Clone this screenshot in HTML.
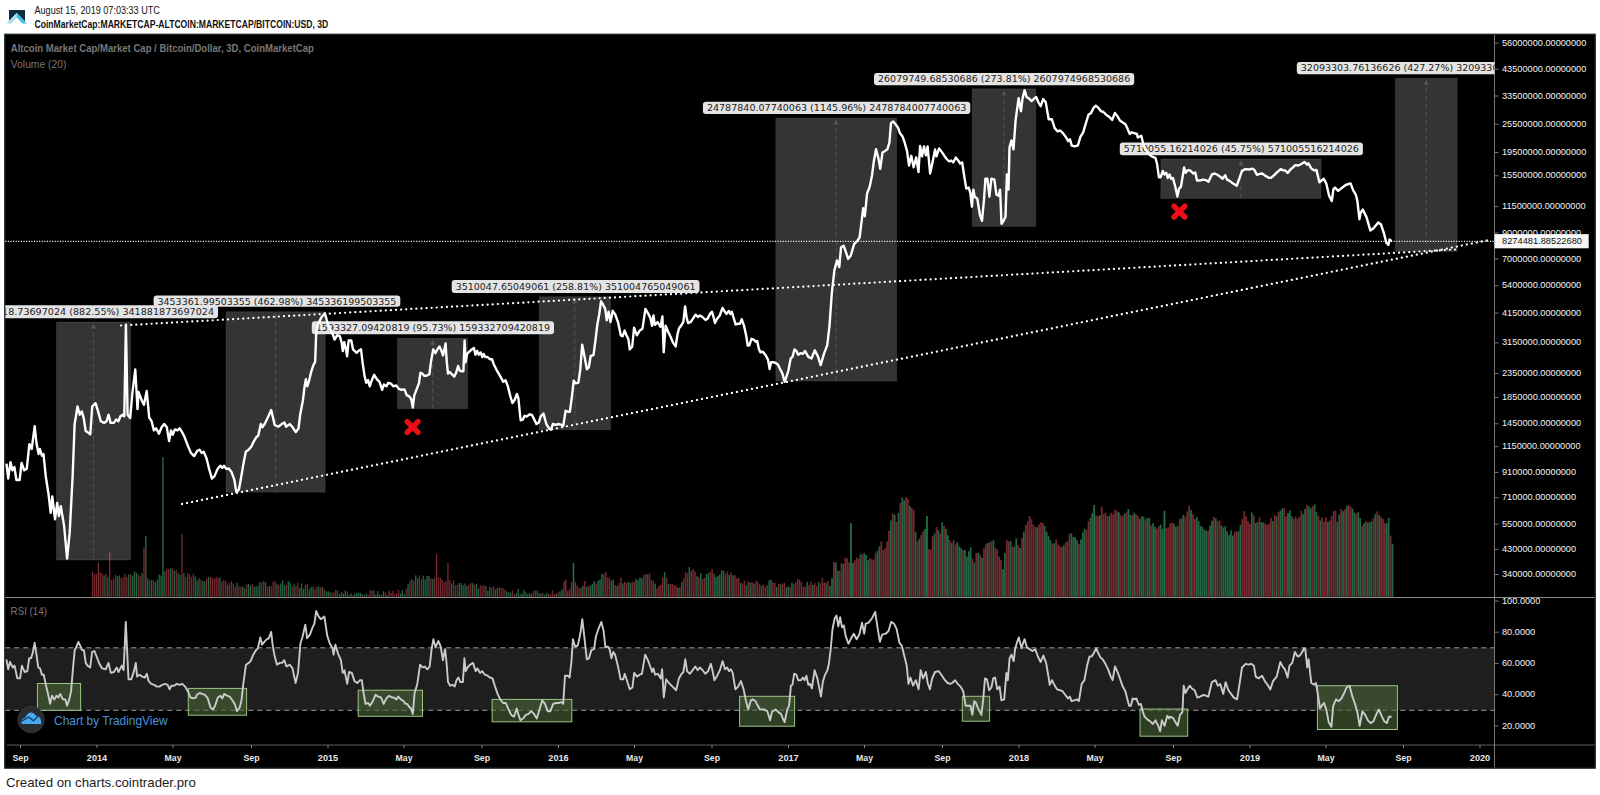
<!DOCTYPE html>
<html><head><meta charset="utf-8"><title>Chart</title>
<style>
html,body{margin:0;padding:0;background:#fff;}
body{width:1600px;height:795px;overflow:hidden;position:relative;font-family:"Liberation Sans",sans-serif;}
svg{position:absolute;left:0;top:0;}
</style></head><body>
<svg width="1600" height="795" viewBox="0 0 1600 795">
<defs><clipPath id="cp"><rect x="5.3" y="34.8" width="1489.2" height="562.7"/></clipPath></defs>
<path d="M9,10 H25 V21.5 L16.7,13 L9,20.9 Z" fill="#0e2d3e"/>
<path d="M6.5,23.6 L16.7,13 L16.7,17.6 L11,23.6 Z" fill="#a6e2ea"/>
<path d="M16.7,13 L27,23.6 L22.4,23.6 L16.7,17.6 Z" fill="#3fc2ee"/>
<rect x="4.3" y="33.8" width="1591.4" height="734.8000000000001" fill="#000"/><rect x="4.8" y="34.3" width="1590.4" height="733.8000000000001" fill="none" stroke="#22343a" stroke-width="1"/><rect x="5.3" y="647.8" width="1489.2" height="62.5" fill="#1e1e1e"/><g><rect x="92.00" y="571.4" width="1.3" height="25.4" fill="#732a2f"/><rect x="93.90" y="574.1" width="1.3" height="22.7" fill="#732a2f"/><rect x="95.80" y="574.1" width="1.3" height="22.7" fill="#732a2f"/><rect x="97.70" y="562.5" width="1.3" height="34.3" fill="#7a2a30"/><rect x="99.60" y="572.6" width="1.3" height="24.2" fill="#732a2f"/><rect x="101.50" y="573.1" width="1.3" height="23.7" fill="#732a2f"/><rect x="103.40" y="575.4" width="1.3" height="21.4" fill="#256444"/><rect x="105.30" y="573.8" width="1.3" height="23.0" fill="#732a2f"/><rect x="107.20" y="577.0" width="1.3" height="19.8" fill="#256444"/><rect x="109.10" y="552.5" width="1.3" height="44.3" fill="#7a2a30"/><rect x="111.00" y="579.5" width="1.3" height="17.3" fill="#732a2f"/><rect x="112.90" y="578.9" width="1.3" height="17.9" fill="#732a2f"/><rect x="114.80" y="574.8" width="1.3" height="22.0" fill="#732a2f"/><rect x="116.70" y="576.0" width="1.3" height="20.8" fill="#256444"/><rect x="118.60" y="575.4" width="1.3" height="21.4" fill="#256444"/><rect x="120.50" y="578.2" width="1.3" height="18.6" fill="#732a2f"/><rect x="122.40" y="577.2" width="1.3" height="19.6" fill="#732a2f"/><rect x="124.30" y="573.8" width="1.3" height="23.0" fill="#732a2f"/><rect x="126.20" y="577.0" width="1.3" height="19.8" fill="#732a2f"/><rect x="128.10" y="574.3" width="1.3" height="22.5" fill="#256444"/><rect x="130.00" y="574.4" width="1.3" height="22.4" fill="#732a2f"/><rect x="131.90" y="575.6" width="1.3" height="21.2" fill="#256444"/><rect x="133.80" y="571.5" width="1.3" height="25.3" fill="#256444"/><rect x="135.70" y="572.8" width="1.3" height="24.0" fill="#256444"/><rect x="137.60" y="574.2" width="1.3" height="22.6" fill="#732a2f"/><rect x="139.50" y="576.0" width="1.3" height="20.8" fill="#732a2f"/><rect x="141.40" y="572.9" width="1.3" height="23.9" fill="#256444"/><rect x="143.30" y="547.5" width="1.3" height="49.3" fill="#7a2a30"/><rect x="145.20" y="536.0" width="1.3" height="60.8" fill="#2a7048"/><rect x="147.10" y="578.3" width="1.3" height="18.5" fill="#256444"/><rect x="149.00" y="580.1" width="1.3" height="16.7" fill="#732a2f"/><rect x="150.90" y="580.0" width="1.3" height="16.8" fill="#256444"/><rect x="152.80" y="579.9" width="1.3" height="16.9" fill="#732a2f"/><rect x="154.70" y="582.1" width="1.3" height="14.7" fill="#256444"/><rect x="156.60" y="579.5" width="1.3" height="17.3" fill="#256444"/><rect x="158.50" y="574.5" width="1.3" height="22.3" fill="#256444"/><rect x="160.40" y="575.5" width="1.3" height="21.3" fill="#256444"/><rect x="162.30" y="457.0" width="1.3" height="139.8" fill="#2a7048"/><rect x="164.20" y="571.3" width="1.3" height="25.5" fill="#256444"/><rect x="166.10" y="568.6" width="1.3" height="28.2" fill="#732a2f"/><rect x="168.00" y="569.0" width="1.3" height="27.8" fill="#732a2f"/><rect x="169.90" y="567.9" width="1.3" height="28.9" fill="#256444"/><rect x="171.80" y="568.7" width="1.3" height="28.1" fill="#732a2f"/><rect x="173.70" y="570.8" width="1.3" height="26.0" fill="#256444"/><rect x="175.60" y="569.4" width="1.3" height="27.4" fill="#732a2f"/><rect x="177.50" y="572.7" width="1.3" height="24.1" fill="#256444"/><rect x="179.40" y="574.8" width="1.3" height="22.0" fill="#256444"/><rect x="181.30" y="534.0" width="1.3" height="62.8" fill="#7a2a30"/><rect x="183.20" y="573.1" width="1.3" height="23.7" fill="#256444"/><rect x="185.10" y="577.3" width="1.3" height="19.5" fill="#732a2f"/><rect x="187.00" y="573.1" width="1.3" height="23.7" fill="#732a2f"/><rect x="188.90" y="574.0" width="1.3" height="22.8" fill="#732a2f"/><rect x="190.80" y="576.7" width="1.3" height="20.1" fill="#732a2f"/><rect x="192.70" y="573.7" width="1.3" height="23.1" fill="#732a2f"/><rect x="194.60" y="576.4" width="1.3" height="20.4" fill="#256444"/><rect x="196.50" y="580.3" width="1.3" height="16.5" fill="#256444"/><rect x="198.40" y="578.2" width="1.3" height="18.6" fill="#256444"/><rect x="200.30" y="579.6" width="1.3" height="17.2" fill="#732a2f"/><rect x="202.20" y="581.1" width="1.3" height="15.7" fill="#256444"/><rect x="204.10" y="581.2" width="1.3" height="15.6" fill="#256444"/><rect x="206.00" y="578.5" width="1.3" height="18.3" fill="#732a2f"/><rect x="207.90" y="576.9" width="1.3" height="19.9" fill="#256444"/><rect x="209.80" y="576.9" width="1.3" height="19.9" fill="#732a2f"/><rect x="211.70" y="577.9" width="1.3" height="18.9" fill="#732a2f"/><rect x="213.60" y="578.9" width="1.3" height="17.9" fill="#732a2f"/><rect x="215.50" y="577.1" width="1.3" height="19.7" fill="#732a2f"/><rect x="217.40" y="577.8" width="1.3" height="19.0" fill="#732a2f"/><rect x="219.30" y="577.6" width="1.3" height="19.2" fill="#256444"/><rect x="221.20" y="581.5" width="1.3" height="15.3" fill="#732a2f"/><rect x="223.10" y="579.9" width="1.3" height="16.9" fill="#732a2f"/><rect x="225.00" y="581.2" width="1.3" height="15.6" fill="#732a2f"/><rect x="226.90" y="584.7" width="1.3" height="12.1" fill="#256444"/><rect x="228.80" y="582.9" width="1.3" height="13.9" fill="#732a2f"/><rect x="230.70" y="581.2" width="1.3" height="15.6" fill="#732a2f"/><rect x="232.60" y="583.3" width="1.3" height="13.5" fill="#732a2f"/><rect x="234.50" y="586.8" width="1.3" height="10.0" fill="#732a2f"/><rect x="236.40" y="582.6" width="1.3" height="14.2" fill="#256444"/><rect x="238.30" y="586.2" width="1.3" height="10.6" fill="#732a2f"/><rect x="240.20" y="586.7" width="1.3" height="10.1" fill="#732a2f"/><rect x="242.10" y="586.5" width="1.3" height="10.3" fill="#256444"/><rect x="244.00" y="588.3" width="1.3" height="8.5" fill="#256444"/><rect x="245.90" y="584.5" width="1.3" height="12.3" fill="#732a2f"/><rect x="247.80" y="583.7" width="1.3" height="13.1" fill="#256444"/><rect x="249.70" y="585.7" width="1.3" height="11.1" fill="#256444"/><rect x="251.60" y="584.2" width="1.3" height="12.6" fill="#732a2f"/><rect x="253.50" y="586.7" width="1.3" height="10.1" fill="#256444"/><rect x="255.40" y="586.5" width="1.3" height="10.3" fill="#256444"/><rect x="257.30" y="585.9" width="1.3" height="10.9" fill="#256444"/><rect x="259.20" y="582.0" width="1.3" height="14.8" fill="#256444"/><rect x="261.10" y="582.6" width="1.3" height="14.2" fill="#732a2f"/><rect x="263.00" y="580.7" width="1.3" height="16.1" fill="#732a2f"/><rect x="264.90" y="582.1" width="1.3" height="14.7" fill="#256444"/><rect x="266.80" y="586.2" width="1.3" height="10.6" fill="#732a2f"/><rect x="268.70" y="586.1" width="1.3" height="10.7" fill="#256444"/><rect x="270.60" y="586.2" width="1.3" height="10.6" fill="#732a2f"/><rect x="272.50" y="581.6" width="1.3" height="15.2" fill="#732a2f"/><rect x="274.40" y="581.2" width="1.3" height="15.6" fill="#732a2f"/><rect x="276.30" y="583.6" width="1.3" height="13.2" fill="#256444"/><rect x="278.20" y="584.7" width="1.3" height="12.1" fill="#732a2f"/><rect x="280.10" y="583.4" width="1.3" height="13.4" fill="#256444"/><rect x="282.00" y="580.2" width="1.3" height="16.6" fill="#256444"/><rect x="283.90" y="585.3" width="1.3" height="11.5" fill="#256444"/><rect x="285.80" y="584.6" width="1.3" height="12.2" fill="#732a2f"/><rect x="287.70" y="581.3" width="1.3" height="15.5" fill="#256444"/><rect x="289.60" y="582.5" width="1.3" height="14.3" fill="#256444"/><rect x="291.50" y="586.6" width="1.3" height="10.2" fill="#732a2f"/><rect x="293.40" y="583.6" width="1.3" height="13.2" fill="#256444"/><rect x="295.30" y="585.9" width="1.3" height="10.9" fill="#732a2f"/><rect x="297.20" y="582.7" width="1.3" height="14.1" fill="#732a2f"/><rect x="299.10" y="587.7" width="1.3" height="9.1" fill="#256444"/><rect x="301.00" y="583.5" width="1.3" height="13.3" fill="#256444"/><rect x="302.90" y="588.7" width="1.3" height="8.1" fill="#256444"/><rect x="304.80" y="585.1" width="1.3" height="11.7" fill="#256444"/><rect x="306.70" y="584.0" width="1.3" height="12.8" fill="#732a2f"/><rect x="308.60" y="589.2" width="1.3" height="7.6" fill="#256444"/><rect x="310.50" y="586.8" width="1.3" height="10.0" fill="#256444"/><rect x="312.40" y="586.6" width="1.3" height="10.2" fill="#256444"/><rect x="314.30" y="589.3" width="1.3" height="7.5" fill="#732a2f"/><rect x="316.20" y="586.3" width="1.3" height="10.5" fill="#732a2f"/><rect x="318.10" y="586.6" width="1.3" height="10.2" fill="#256444"/><rect x="320.00" y="587.1" width="1.3" height="9.7" fill="#732a2f"/><rect x="321.90" y="587.0" width="1.3" height="9.8" fill="#256444"/><rect x="323.80" y="589.1" width="1.3" height="7.7" fill="#732a2f"/><rect x="325.70" y="591.3" width="1.3" height="5.5" fill="#256444"/><rect x="327.60" y="591.1" width="1.3" height="5.7" fill="#256444"/><rect x="329.50" y="592.3" width="1.3" height="4.5" fill="#256444"/><rect x="331.40" y="592.7" width="1.3" height="4.1" fill="#732a2f"/><rect x="333.30" y="592.2" width="1.3" height="4.6" fill="#732a2f"/><rect x="335.20" y="589.7" width="1.3" height="7.1" fill="#256444"/><rect x="337.10" y="590.7" width="1.3" height="6.1" fill="#732a2f"/><rect x="339.00" y="594.1" width="1.3" height="2.7" fill="#256444"/><rect x="340.90" y="591.7" width="1.3" height="5.1" fill="#256444"/><rect x="342.80" y="593.2" width="1.3" height="3.6" fill="#256444"/><rect x="344.70" y="590.5" width="1.3" height="6.3" fill="#256444"/><rect x="346.60" y="591.4" width="1.3" height="5.4" fill="#732a2f"/><rect x="348.50" y="594.6" width="1.3" height="2.2" fill="#256444"/><rect x="350.40" y="593.4" width="1.3" height="3.4" fill="#256444"/><rect x="352.30" y="595.0" width="1.3" height="1.8" fill="#732a2f"/><rect x="354.20" y="593.7" width="1.3" height="3.1" fill="#256444"/><rect x="356.10" y="593.1" width="1.3" height="3.7" fill="#256444"/><rect x="358.00" y="592.7" width="1.3" height="4.1" fill="#256444"/><rect x="359.90" y="592.9" width="1.3" height="3.9" fill="#256444"/><rect x="361.80" y="594.2" width="1.3" height="2.6" fill="#256444"/><rect x="363.70" y="595.0" width="1.3" height="1.8" fill="#732a2f"/><rect x="365.60" y="593.4" width="1.3" height="3.4" fill="#256444"/><rect x="367.50" y="595.0" width="1.3" height="1.8" fill="#732a2f"/><rect x="369.40" y="590.7" width="1.3" height="6.1" fill="#732a2f"/><rect x="371.30" y="590.4" width="1.3" height="6.4" fill="#732a2f"/><rect x="373.20" y="590.4" width="1.3" height="6.4" fill="#256444"/><rect x="375.10" y="594.7" width="1.3" height="2.1" fill="#256444"/><rect x="377.00" y="590.9" width="1.3" height="5.9" fill="#256444"/><rect x="378.90" y="594.0" width="1.3" height="2.8" fill="#732a2f"/><rect x="380.80" y="595.0" width="1.3" height="1.8" fill="#256444"/><rect x="382.70" y="591.3" width="1.3" height="5.5" fill="#256444"/><rect x="384.60" y="592.3" width="1.3" height="4.5" fill="#732a2f"/><rect x="386.50" y="595.0" width="1.3" height="1.8" fill="#256444"/><rect x="388.40" y="590.8" width="1.3" height="6.0" fill="#732a2f"/><rect x="390.30" y="592.9" width="1.3" height="3.9" fill="#732a2f"/><rect x="392.20" y="590.9" width="1.3" height="5.9" fill="#732a2f"/><rect x="394.10" y="594.1" width="1.3" height="2.7" fill="#732a2f"/><rect x="396.00" y="593.0" width="1.3" height="3.8" fill="#732a2f"/><rect x="397.90" y="589.8" width="1.3" height="7.0" fill="#732a2f"/><rect x="399.80" y="593.3" width="1.3" height="3.5" fill="#256444"/><rect x="401.70" y="590.0" width="1.3" height="6.8" fill="#256444"/><rect x="403.60" y="594.3" width="1.3" height="2.5" fill="#256444"/><rect x="405.50" y="588.9" width="1.3" height="7.9" fill="#732a2f"/><rect x="407.40" y="584.0" width="1.3" height="12.8" fill="#256444"/><rect x="409.30" y="580.8" width="1.3" height="16.0" fill="#732a2f"/><rect x="411.20" y="579.3" width="1.3" height="17.5" fill="#256444"/><rect x="413.10" y="580.6" width="1.3" height="16.2" fill="#732a2f"/><rect x="415.00" y="575.4" width="1.3" height="21.4" fill="#256444"/><rect x="416.90" y="578.1" width="1.3" height="18.7" fill="#256444"/><rect x="418.80" y="575.4" width="1.3" height="21.4" fill="#732a2f"/><rect x="420.70" y="579.2" width="1.3" height="17.6" fill="#732a2f"/><rect x="422.60" y="575.7" width="1.3" height="21.1" fill="#256444"/><rect x="424.50" y="579.3" width="1.3" height="17.5" fill="#256444"/><rect x="426.40" y="576.0" width="1.3" height="20.8" fill="#256444"/><rect x="428.30" y="575.9" width="1.3" height="20.9" fill="#256444"/><rect x="430.20" y="578.2" width="1.3" height="18.6" fill="#732a2f"/><rect x="432.10" y="578.8" width="1.3" height="18.0" fill="#256444"/><rect x="434.00" y="577.6" width="1.3" height="19.2" fill="#732a2f"/><rect x="435.90" y="554.0" width="1.3" height="42.8" fill="#7a2a30"/><rect x="437.80" y="577.6" width="1.3" height="19.2" fill="#732a2f"/><rect x="439.70" y="577.7" width="1.3" height="19.1" fill="#732a2f"/><rect x="441.60" y="579.6" width="1.3" height="17.2" fill="#732a2f"/><rect x="443.50" y="582.5" width="1.3" height="14.3" fill="#732a2f"/><rect x="445.40" y="581.2" width="1.3" height="15.6" fill="#732a2f"/><rect x="447.30" y="563.0" width="1.3" height="33.8" fill="#7a2a30"/><rect x="449.20" y="580.2" width="1.3" height="16.6" fill="#732a2f"/><rect x="451.10" y="583.4" width="1.3" height="13.4" fill="#256444"/><rect x="453.00" y="580.4" width="1.3" height="16.4" fill="#732a2f"/><rect x="454.90" y="585.1" width="1.3" height="11.7" fill="#732a2f"/><rect x="456.80" y="584.8" width="1.3" height="12.0" fill="#732a2f"/><rect x="458.70" y="583.2" width="1.3" height="13.6" fill="#256444"/><rect x="460.60" y="583.0" width="1.3" height="13.8" fill="#256444"/><rect x="462.50" y="585.1" width="1.3" height="11.7" fill="#256444"/><rect x="464.40" y="583.4" width="1.3" height="13.4" fill="#256444"/><rect x="466.30" y="586.0" width="1.3" height="10.8" fill="#256444"/><rect x="468.20" y="584.6" width="1.3" height="12.2" fill="#732a2f"/><rect x="470.10" y="582.8" width="1.3" height="14.0" fill="#732a2f"/><rect x="472.00" y="583.2" width="1.3" height="13.6" fill="#256444"/><rect x="473.90" y="584.6" width="1.3" height="12.2" fill="#732a2f"/><rect x="475.80" y="583.8" width="1.3" height="13.0" fill="#256444"/><rect x="477.70" y="588.7" width="1.3" height="8.1" fill="#256444"/><rect x="479.60" y="585.5" width="1.3" height="11.3" fill="#732a2f"/><rect x="481.50" y="585.8" width="1.3" height="11.0" fill="#732a2f"/><rect x="483.40" y="585.2" width="1.3" height="11.6" fill="#732a2f"/><rect x="485.30" y="586.1" width="1.3" height="10.7" fill="#256444"/><rect x="487.20" y="590.8" width="1.3" height="6.0" fill="#256444"/><rect x="489.10" y="586.8" width="1.3" height="10.0" fill="#256444"/><rect x="491.00" y="587.6" width="1.3" height="9.2" fill="#732a2f"/><rect x="492.90" y="586.1" width="1.3" height="10.7" fill="#732a2f"/><rect x="494.80" y="589.3" width="1.3" height="7.5" fill="#256444"/><rect x="496.70" y="588.0" width="1.3" height="8.8" fill="#256444"/><rect x="498.60" y="587.2" width="1.3" height="9.6" fill="#732a2f"/><rect x="500.50" y="588.1" width="1.3" height="8.7" fill="#732a2f"/><rect x="502.40" y="587.9" width="1.3" height="8.9" fill="#732a2f"/><rect x="504.30" y="589.6" width="1.3" height="7.2" fill="#732a2f"/><rect x="506.20" y="591.4" width="1.3" height="5.4" fill="#256444"/><rect x="508.10" y="592.5" width="1.3" height="4.3" fill="#256444"/><rect x="510.00" y="592.5" width="1.3" height="4.3" fill="#256444"/><rect x="511.90" y="590.6" width="1.3" height="6.2" fill="#732a2f"/><rect x="513.80" y="594.3" width="1.3" height="2.5" fill="#732a2f"/><rect x="515.70" y="592.9" width="1.3" height="3.9" fill="#256444"/><rect x="517.60" y="588.9" width="1.3" height="7.9" fill="#256444"/><rect x="519.50" y="594.2" width="1.3" height="2.6" fill="#256444"/><rect x="521.40" y="593.3" width="1.3" height="3.5" fill="#256444"/><rect x="523.30" y="589.9" width="1.3" height="6.9" fill="#256444"/><rect x="525.20" y="592.2" width="1.3" height="4.6" fill="#256444"/><rect x="527.10" y="594.1" width="1.3" height="2.7" fill="#256444"/><rect x="529.00" y="592.9" width="1.3" height="3.9" fill="#256444"/><rect x="530.90" y="593.6" width="1.3" height="3.2" fill="#256444"/><rect x="532.80" y="590.9" width="1.3" height="5.9" fill="#732a2f"/><rect x="534.70" y="590.4" width="1.3" height="6.4" fill="#732a2f"/><rect x="536.60" y="590.3" width="1.3" height="6.5" fill="#256444"/><rect x="538.50" y="593.1" width="1.3" height="3.7" fill="#256444"/><rect x="540.40" y="593.5" width="1.3" height="3.3" fill="#256444"/><rect x="542.30" y="592.7" width="1.3" height="4.1" fill="#732a2f"/><rect x="544.20" y="594.6" width="1.3" height="2.2" fill="#256444"/><rect x="546.10" y="592.9" width="1.3" height="3.9" fill="#256444"/><rect x="548.00" y="593.9" width="1.3" height="2.9" fill="#732a2f"/><rect x="549.90" y="594.4" width="1.3" height="2.4" fill="#732a2f"/><rect x="551.80" y="590.2" width="1.3" height="6.6" fill="#732a2f"/><rect x="553.70" y="593.8" width="1.3" height="3.0" fill="#732a2f"/><rect x="555.60" y="593.5" width="1.3" height="3.3" fill="#256444"/><rect x="557.50" y="591.7" width="1.3" height="5.1" fill="#732a2f"/><rect x="559.40" y="591.4" width="1.3" height="5.4" fill="#256444"/><rect x="561.30" y="589.7" width="1.5" height="7.1" fill="#256444"/><rect x="563.20" y="581.4" width="1.5" height="15.4" fill="#732a2f"/><rect x="565.10" y="579.6" width="1.5" height="17.2" fill="#732a2f"/><rect x="567.00" y="590.8" width="1.5" height="6.0" fill="#732a2f"/><rect x="568.90" y="588.9" width="1.5" height="7.9" fill="#732a2f"/><rect x="570.80" y="582.1" width="1.5" height="14.7" fill="#732a2f"/><rect x="572.70" y="563.0" width="1.5" height="33.8" fill="#2a7048"/><rect x="574.60" y="582.1" width="1.5" height="14.7" fill="#732a2f"/><rect x="576.50" y="585.9" width="1.5" height="10.9" fill="#732a2f"/><rect x="578.40" y="588.5" width="1.5" height="8.3" fill="#732a2f"/><rect x="580.30" y="587.3" width="1.5" height="9.5" fill="#732a2f"/><rect x="582.20" y="585.7" width="1.5" height="11.1" fill="#256444"/><rect x="584.10" y="580.9" width="1.5" height="15.9" fill="#732a2f"/><rect x="586.00" y="586.9" width="1.5" height="9.9" fill="#256444"/><rect x="587.90" y="585.9" width="1.5" height="10.9" fill="#732a2f"/><rect x="589.80" y="585.7" width="1.5" height="11.1" fill="#256444"/><rect x="591.70" y="584.2" width="1.5" height="12.6" fill="#256444"/><rect x="593.60" y="581.2" width="1.5" height="15.6" fill="#256444"/><rect x="595.50" y="583.5" width="1.5" height="13.3" fill="#732a2f"/><rect x="597.40" y="580.8" width="1.5" height="16.0" fill="#256444"/><rect x="599.30" y="579.3" width="1.5" height="17.5" fill="#256444"/><rect x="601.20" y="573.7" width="1.5" height="23.1" fill="#256444"/><rect x="603.10" y="574.3" width="1.5" height="22.5" fill="#732a2f"/><rect x="605.00" y="571.9" width="1.5" height="24.9" fill="#732a2f"/><rect x="606.90" y="577.4" width="1.5" height="19.4" fill="#732a2f"/><rect x="608.80" y="577.8" width="1.5" height="19.0" fill="#732a2f"/><rect x="610.70" y="580.8" width="1.5" height="16.0" fill="#256444"/><rect x="612.60" y="579.7" width="1.5" height="17.1" fill="#256444"/><rect x="614.50" y="585.1" width="1.5" height="11.7" fill="#732a2f"/><rect x="616.40" y="585.9" width="1.5" height="10.9" fill="#256444"/><rect x="618.30" y="583.1" width="1.5" height="13.7" fill="#732a2f"/><rect x="620.20" y="577.6" width="1.5" height="19.2" fill="#732a2f"/><rect x="622.10" y="583.5" width="1.5" height="13.3" fill="#256444"/><rect x="624.00" y="581.9" width="1.5" height="14.9" fill="#732a2f"/><rect x="625.90" y="583.0" width="1.5" height="13.8" fill="#732a2f"/><rect x="627.80" y="581.9" width="1.5" height="14.9" fill="#256444"/><rect x="629.70" y="583.0" width="1.5" height="13.8" fill="#256444"/><rect x="631.60" y="581.7" width="1.5" height="15.1" fill="#732a2f"/><rect x="633.50" y="581.4" width="1.5" height="15.4" fill="#732a2f"/><rect x="635.40" y="578.6" width="1.5" height="18.2" fill="#256444"/><rect x="637.30" y="580.3" width="1.5" height="16.5" fill="#256444"/><rect x="639.20" y="577.5" width="1.5" height="19.3" fill="#256444"/><rect x="641.10" y="578.1" width="1.5" height="18.7" fill="#256444"/><rect x="643.00" y="575.2" width="1.5" height="21.6" fill="#732a2f"/><rect x="644.90" y="573.8" width="1.5" height="23.0" fill="#732a2f"/><rect x="646.80" y="574.6" width="1.5" height="22.2" fill="#256444"/><rect x="648.70" y="573.3" width="1.5" height="23.5" fill="#732a2f"/><rect x="650.60" y="579.7" width="1.5" height="17.1" fill="#732a2f"/><rect x="652.50" y="580.8" width="1.5" height="16.0" fill="#732a2f"/><rect x="654.40" y="583.6" width="1.5" height="13.2" fill="#256444"/><rect x="656.30" y="588.4" width="1.5" height="8.4" fill="#732a2f"/><rect x="658.20" y="585.9" width="1.5" height="10.9" fill="#732a2f"/><rect x="660.10" y="584.7" width="1.5" height="12.1" fill="#732a2f"/><rect x="662.00" y="577.2" width="1.5" height="19.6" fill="#732a2f"/><rect x="663.90" y="572.2" width="1.5" height="24.6" fill="#256444"/><rect x="665.80" y="577.8" width="1.5" height="19.0" fill="#732a2f"/><rect x="667.70" y="584.1" width="1.5" height="12.7" fill="#256444"/><rect x="669.60" y="584.3" width="1.5" height="12.5" fill="#732a2f"/><rect x="671.50" y="583.7" width="1.5" height="13.1" fill="#732a2f"/><rect x="673.40" y="585.4" width="1.5" height="11.4" fill="#732a2f"/><rect x="675.30" y="585.4" width="1.5" height="11.4" fill="#732a2f"/><rect x="677.20" y="588.0" width="1.5" height="8.8" fill="#256444"/><rect x="679.10" y="587.1" width="1.5" height="9.7" fill="#732a2f"/><rect x="681.00" y="581.9" width="1.5" height="14.9" fill="#256444"/><rect x="682.90" y="578.4" width="1.5" height="18.4" fill="#732a2f"/><rect x="684.80" y="572.2" width="1.5" height="24.6" fill="#732a2f"/><rect x="686.70" y="573.3" width="1.5" height="23.5" fill="#732a2f"/><rect x="688.60" y="567.1" width="1.5" height="29.7" fill="#256444"/><rect x="690.50" y="570.8" width="1.5" height="26.0" fill="#732a2f"/><rect x="692.40" y="568.8" width="1.5" height="28.0" fill="#732a2f"/><rect x="694.30" y="571.2" width="1.5" height="25.6" fill="#732a2f"/><rect x="696.20" y="576.1" width="1.5" height="20.7" fill="#256444"/><rect x="698.10" y="577.2" width="1.5" height="19.6" fill="#732a2f"/><rect x="700.00" y="573.1" width="1.5" height="23.7" fill="#256444"/><rect x="701.90" y="578.9" width="1.5" height="17.9" fill="#732a2f"/><rect x="703.80" y="577.8" width="1.5" height="19.0" fill="#732a2f"/><rect x="705.70" y="573.8" width="1.5" height="23.0" fill="#256444"/><rect x="707.60" y="573.3" width="1.5" height="23.5" fill="#256444"/><rect x="709.50" y="571.6" width="1.5" height="25.2" fill="#732a2f"/><rect x="711.40" y="568.7" width="1.5" height="28.1" fill="#732a2f"/><rect x="713.30" y="573.6" width="1.5" height="23.2" fill="#256444"/><rect x="715.20" y="577.1" width="1.5" height="19.7" fill="#256444"/><rect x="717.10" y="576.0" width="1.5" height="20.8" fill="#256444"/><rect x="719.00" y="574.4" width="1.5" height="22.4" fill="#256444"/><rect x="720.90" y="570.4" width="1.5" height="26.4" fill="#256444"/><rect x="722.80" y="570.6" width="1.5" height="26.2" fill="#256444"/><rect x="724.70" y="573.8" width="1.5" height="23.0" fill="#732a2f"/><rect x="726.60" y="571.5" width="1.5" height="25.3" fill="#732a2f"/><rect x="728.50" y="575.0" width="1.5" height="21.8" fill="#256444"/><rect x="730.40" y="572.3" width="1.5" height="24.5" fill="#732a2f"/><rect x="732.30" y="575.3" width="1.5" height="21.5" fill="#256444"/><rect x="734.20" y="575.2" width="1.5" height="21.6" fill="#732a2f"/><rect x="736.10" y="578.1" width="1.5" height="18.7" fill="#732a2f"/><rect x="738.00" y="577.9" width="1.5" height="18.9" fill="#732a2f"/><rect x="739.90" y="583.1" width="1.5" height="13.7" fill="#256444"/><rect x="741.80" y="583.6" width="1.5" height="13.2" fill="#732a2f"/><rect x="743.70" y="580.6" width="1.5" height="16.2" fill="#732a2f"/><rect x="745.60" y="585.3" width="1.5" height="11.5" fill="#256444"/><rect x="747.50" y="581.3" width="1.5" height="15.5" fill="#732a2f"/><rect x="749.40" y="582.5" width="1.5" height="14.3" fill="#256444"/><rect x="751.30" y="582.0" width="1.5" height="14.8" fill="#732a2f"/><rect x="753.20" y="583.5" width="1.5" height="13.3" fill="#256444"/><rect x="755.10" y="580.9" width="1.5" height="15.9" fill="#732a2f"/><rect x="757.00" y="581.7" width="1.5" height="15.1" fill="#732a2f"/><rect x="758.90" y="584.5" width="1.5" height="12.3" fill="#732a2f"/><rect x="760.80" y="585.9" width="1.5" height="10.9" fill="#256444"/><rect x="762.70" y="584.8" width="1.5" height="12.0" fill="#732a2f"/><rect x="764.60" y="587.2" width="1.5" height="9.6" fill="#732a2f"/><rect x="766.50" y="585.2" width="1.5" height="11.6" fill="#732a2f"/><rect x="768.40" y="580.4" width="1.5" height="16.4" fill="#256444"/><rect x="770.30" y="579.7" width="1.5" height="17.1" fill="#256444"/><rect x="772.20" y="582.4" width="1.5" height="14.4" fill="#732a2f"/><rect x="774.10" y="582.7" width="1.5" height="14.1" fill="#732a2f"/><rect x="776.00" y="587.0" width="1.5" height="9.8" fill="#256444"/><rect x="777.90" y="583.9" width="1.5" height="12.9" fill="#732a2f"/><rect x="779.80" y="584.3" width="1.5" height="12.5" fill="#256444"/><rect x="781.70" y="583.7" width="1.5" height="13.1" fill="#732a2f"/><rect x="783.60" y="582.9" width="1.5" height="13.9" fill="#732a2f"/><rect x="785.50" y="587.6" width="1.5" height="9.2" fill="#256444"/><rect x="787.40" y="586.3" width="1.5" height="10.5" fill="#256444"/><rect x="789.30" y="587.2" width="1.5" height="9.6" fill="#732a2f"/><rect x="791.20" y="582.5" width="1.5" height="14.3" fill="#256444"/><rect x="793.10" y="584.4" width="1.5" height="12.4" fill="#732a2f"/><rect x="795.00" y="582.4" width="1.5" height="14.4" fill="#732a2f"/><rect x="796.90" y="579.2" width="1.5" height="17.6" fill="#732a2f"/><rect x="798.80" y="579.6" width="1.5" height="17.2" fill="#732a2f"/><rect x="800.70" y="581.9" width="1.5" height="14.9" fill="#732a2f"/><rect x="802.60" y="586.8" width="1.5" height="10.0" fill="#732a2f"/><rect x="804.50" y="586.2" width="1.5" height="10.6" fill="#732a2f"/><rect x="806.40" y="581.9" width="1.5" height="14.9" fill="#256444"/><rect x="808.30" y="585.1" width="1.5" height="11.7" fill="#732a2f"/><rect x="810.20" y="581.7" width="1.5" height="15.1" fill="#732a2f"/><rect x="812.10" y="585.0" width="1.5" height="11.8" fill="#256444"/><rect x="814.00" y="583.2" width="1.5" height="13.6" fill="#732a2f"/><rect x="815.90" y="586.1" width="1.5" height="10.7" fill="#732a2f"/><rect x="817.80" y="582.0" width="1.5" height="14.8" fill="#256444"/><rect x="819.70" y="583.2" width="1.5" height="13.6" fill="#732a2f"/><rect x="821.60" y="577.8" width="1.5" height="19.0" fill="#732a2f"/><rect x="823.50" y="582.7" width="1.5" height="14.1" fill="#732a2f"/><rect x="825.40" y="582.6" width="1.5" height="14.2" fill="#256444"/><rect x="827.30" y="581.0" width="1.5" height="15.8" fill="#732a2f"/><rect x="829.20" y="586.0" width="1.5" height="10.8" fill="#256444"/><rect x="831.10" y="578.1" width="1.75" height="18.7" fill="#256444"/><rect x="833.00" y="562.0" width="1.75" height="34.8" fill="#732a2f"/><rect x="834.90" y="562.5" width="1.75" height="34.3" fill="#256444"/><rect x="836.80" y="570.5" width="1.75" height="26.3" fill="#256444"/><rect x="838.70" y="570.9" width="1.75" height="25.9" fill="#732a2f"/><rect x="840.60" y="563.2" width="1.75" height="33.6" fill="#732a2f"/><rect x="842.50" y="564.0" width="1.75" height="32.8" fill="#256444"/><rect x="844.40" y="557.6" width="1.75" height="39.2" fill="#732a2f"/><rect x="846.30" y="558.6" width="1.75" height="38.2" fill="#732a2f"/><rect x="848.20" y="562.4" width="1.75" height="34.4" fill="#732a2f"/><rect x="850.10" y="523.0" width="1.75" height="73.8" fill="#2a7048"/><rect x="852.00" y="563.0" width="1.75" height="33.8" fill="#256444"/><rect x="853.90" y="560.4" width="1.75" height="36.4" fill="#732a2f"/><rect x="855.80" y="557.3" width="1.75" height="39.5" fill="#732a2f"/><rect x="857.70" y="558.8" width="1.75" height="38.0" fill="#732a2f"/><rect x="859.60" y="554.2" width="1.75" height="42.6" fill="#256444"/><rect x="861.50" y="554.5" width="1.75" height="42.3" fill="#732a2f"/><rect x="863.40" y="553.2" width="1.75" height="43.6" fill="#256444"/><rect x="865.30" y="555.0" width="1.75" height="41.8" fill="#256444"/><rect x="867.20" y="560.2" width="1.75" height="36.6" fill="#256444"/><rect x="869.10" y="558.4" width="1.75" height="38.4" fill="#732a2f"/><rect x="871.00" y="559.3" width="1.75" height="37.5" fill="#732a2f"/><rect x="872.90" y="559.8" width="1.75" height="37.0" fill="#732a2f"/><rect x="874.80" y="552.8" width="1.75" height="44.0" fill="#732a2f"/><rect x="876.70" y="550.6" width="1.75" height="46.2" fill="#256444"/><rect x="878.60" y="546.3" width="1.75" height="50.5" fill="#256444"/><rect x="880.50" y="541.5" width="1.75" height="55.3" fill="#732a2f"/><rect x="882.40" y="549.7" width="1.75" height="47.1" fill="#732a2f"/><rect x="884.30" y="548.3" width="1.75" height="48.5" fill="#732a2f"/><rect x="886.20" y="541.6" width="1.75" height="55.2" fill="#732a2f"/><rect x="888.10" y="530.8" width="1.75" height="66.0" fill="#732a2f"/><rect x="890.00" y="520.5" width="1.75" height="76.3" fill="#256444"/><rect x="891.90" y="513.4" width="1.75" height="83.4" fill="#732a2f"/><rect x="893.80" y="514.9" width="1.75" height="81.9" fill="#256444"/><rect x="895.70" y="521.7" width="1.75" height="75.1" fill="#732a2f"/><rect x="897.60" y="512.7" width="1.75" height="84.1" fill="#256444"/><rect x="899.50" y="502.9" width="1.75" height="93.9" fill="#732a2f"/><rect x="901.40" y="497.5" width="1.75" height="99.3" fill="#256444"/><rect x="903.30" y="500.4" width="1.75" height="96.4" fill="#256444"/><rect x="905.20" y="497.0" width="1.75" height="99.8" fill="#732a2f"/><rect x="907.10" y="499.1" width="1.75" height="97.7" fill="#732a2f"/><rect x="909.00" y="505.9" width="1.75" height="90.9" fill="#256444"/><rect x="910.90" y="507.9" width="1.75" height="88.9" fill="#732a2f"/><rect x="912.80" y="509.9" width="1.75" height="86.9" fill="#732a2f"/><rect x="914.70" y="531.8" width="1.75" height="65.0" fill="#256444"/><rect x="916.60" y="541.0" width="1.75" height="55.8" fill="#732a2f"/><rect x="918.50" y="538.6" width="1.75" height="58.2" fill="#256444"/><rect x="920.40" y="534.9" width="1.75" height="61.9" fill="#732a2f"/><rect x="922.30" y="531.3" width="1.75" height="65.5" fill="#732a2f"/><rect x="924.20" y="528.8" width="1.75" height="68.0" fill="#256444"/><rect x="926.10" y="516.0" width="1.75" height="80.8" fill="#2a7048"/><rect x="928.00" y="549.1" width="1.75" height="47.7" fill="#732a2f"/><rect x="929.90" y="549.9" width="1.75" height="46.9" fill="#732a2f"/><rect x="931.80" y="536.4" width="1.75" height="60.4" fill="#732a2f"/><rect x="933.70" y="533.6" width="1.75" height="63.2" fill="#256444"/><rect x="935.60" y="526.9" width="1.75" height="69.9" fill="#732a2f"/><rect x="937.50" y="530.1" width="1.75" height="66.7" fill="#256444"/><rect x="939.40" y="533.3" width="1.75" height="63.5" fill="#732a2f"/><rect x="941.30" y="522.3" width="1.75" height="74.5" fill="#256444"/><rect x="943.20" y="526.0" width="1.75" height="70.8" fill="#732a2f"/><rect x="945.10" y="528.8" width="1.75" height="68.0" fill="#256444"/><rect x="947.00" y="535.2" width="1.75" height="61.6" fill="#256444"/><rect x="948.90" y="540.0" width="1.75" height="56.8" fill="#732a2f"/><rect x="950.80" y="543.1" width="1.75" height="53.7" fill="#256444"/><rect x="952.70" y="540.1" width="1.75" height="56.7" fill="#732a2f"/><rect x="954.60" y="544.4" width="1.75" height="52.4" fill="#732a2f"/><rect x="956.50" y="542.3" width="1.75" height="54.5" fill="#256444"/><rect x="958.40" y="546.5" width="1.75" height="50.3" fill="#256444"/><rect x="960.30" y="548.1" width="1.75" height="48.7" fill="#256444"/><rect x="962.20" y="550.1" width="1.75" height="46.7" fill="#732a2f"/><rect x="964.10" y="550.0" width="1.75" height="46.8" fill="#256444"/><rect x="966.00" y="556.6" width="1.75" height="40.2" fill="#256444"/><rect x="967.90" y="551.2" width="1.75" height="45.6" fill="#256444"/><rect x="969.80" y="547.3" width="1.75" height="49.5" fill="#256444"/><rect x="971.70" y="558.9" width="1.75" height="37.9" fill="#732a2f"/><rect x="973.60" y="562.6" width="1.75" height="34.2" fill="#256444"/><rect x="975.50" y="553.1" width="1.75" height="43.7" fill="#732a2f"/><rect x="977.40" y="552.9" width="1.75" height="43.9" fill="#256444"/><rect x="979.30" y="555.1" width="1.75" height="41.7" fill="#732a2f"/><rect x="981.20" y="557.6" width="1.75" height="39.2" fill="#256444"/><rect x="983.10" y="548.3" width="1.75" height="48.5" fill="#732a2f"/><rect x="985.00" y="544.5" width="1.75" height="52.3" fill="#732a2f"/><rect x="986.90" y="543.0" width="1.75" height="53.8" fill="#256444"/><rect x="988.80" y="542.1" width="1.75" height="54.7" fill="#732a2f"/><rect x="990.70" y="541.4" width="1.75" height="55.4" fill="#732a2f"/><rect x="992.60" y="540.2" width="1.75" height="56.6" fill="#256444"/><rect x="994.50" y="548.0" width="1.75" height="48.8" fill="#732a2f"/><rect x="996.40" y="549.6" width="1.75" height="47.2" fill="#732a2f"/><rect x="998.30" y="556.7" width="1.75" height="40.1" fill="#732a2f"/><rect x="1000.20" y="560.0" width="1.75" height="36.8" fill="#732a2f"/><rect x="1002.10" y="569.3" width="1.75" height="27.5" fill="#256444"/><rect x="1004.00" y="552.8" width="1.75" height="44.0" fill="#256444"/><rect x="1005.90" y="540.2" width="1.75" height="56.6" fill="#732a2f"/><rect x="1007.80" y="541.5" width="1.75" height="55.3" fill="#732a2f"/><rect x="1009.70" y="540.8" width="1.75" height="56.0" fill="#256444"/><rect x="1011.60" y="546.6" width="1.75" height="50.2" fill="#732a2f"/><rect x="1013.50" y="546.5" width="1.75" height="50.3" fill="#256444"/><rect x="1015.40" y="538.3" width="1.75" height="58.5" fill="#256444"/><rect x="1017.30" y="545.1" width="1.75" height="51.7" fill="#732a2f"/><rect x="1019.20" y="547.9" width="1.75" height="48.9" fill="#256444"/><rect x="1021.10" y="538.0" width="1.75" height="58.8" fill="#732a2f"/><rect x="1023.00" y="531.6" width="1.75" height="65.2" fill="#256444"/><rect x="1024.90" y="524.8" width="1.75" height="72.0" fill="#732a2f"/><rect x="1026.80" y="521.5" width="1.75" height="75.3" fill="#732a2f"/><rect x="1028.70" y="516.0" width="1.75" height="80.8" fill="#732a2f"/><rect x="1030.60" y="519.2" width="1.75" height="77.6" fill="#732a2f"/><rect x="1032.50" y="524.7" width="1.75" height="72.1" fill="#732a2f"/><rect x="1034.40" y="526.6" width="1.75" height="70.2" fill="#732a2f"/><rect x="1036.30" y="527.3" width="1.75" height="69.5" fill="#256444"/><rect x="1038.20" y="524.5" width="1.75" height="72.3" fill="#732a2f"/><rect x="1040.10" y="522.5" width="1.75" height="74.3" fill="#732a2f"/><rect x="1042.00" y="522.9" width="1.75" height="73.9" fill="#732a2f"/><rect x="1043.90" y="525.9" width="1.75" height="70.9" fill="#256444"/><rect x="1045.80" y="531.6" width="1.75" height="65.2" fill="#256444"/><rect x="1047.70" y="536.1" width="1.75" height="60.7" fill="#256444"/><rect x="1049.60" y="540.3" width="1.75" height="56.5" fill="#256444"/><rect x="1051.50" y="543.7" width="1.75" height="53.1" fill="#732a2f"/><rect x="1053.40" y="543.3" width="1.75" height="53.5" fill="#256444"/><rect x="1055.30" y="539.5" width="1.75" height="57.3" fill="#732a2f"/><rect x="1057.20" y="544.5" width="1.75" height="52.3" fill="#732a2f"/><rect x="1059.10" y="546.2" width="1.75" height="50.6" fill="#732a2f"/><rect x="1061.00" y="547.1" width="1.75" height="49.7" fill="#732a2f"/><rect x="1062.90" y="545.3" width="1.75" height="51.5" fill="#256444"/><rect x="1064.80" y="542.4" width="1.75" height="54.4" fill="#732a2f"/><rect x="1066.70" y="541.0" width="1.75" height="55.8" fill="#732a2f"/><rect x="1068.60" y="534.0" width="1.75" height="62.8" fill="#732a2f"/><rect x="1070.50" y="533.2" width="1.75" height="63.6" fill="#256444"/><rect x="1072.40" y="537.0" width="1.75" height="59.8" fill="#256444"/><rect x="1074.30" y="537.2" width="1.75" height="59.6" fill="#256444"/><rect x="1076.20" y="540.2" width="1.75" height="56.6" fill="#256444"/><rect x="1078.10" y="543.8" width="1.75" height="53.0" fill="#732a2f"/><rect x="1080.00" y="539.4" width="1.75" height="57.4" fill="#256444"/><rect x="1081.90" y="532.3" width="1.75" height="64.5" fill="#256444"/><rect x="1083.80" y="528.8" width="1.75" height="68.0" fill="#256444"/><rect x="1085.70" y="529.9" width="1.75" height="66.9" fill="#732a2f"/><rect x="1087.60" y="521.5" width="1.75" height="75.3" fill="#732a2f"/><rect x="1089.50" y="518.0" width="1.75" height="78.8" fill="#256444"/><rect x="1091.40" y="513.2" width="1.75" height="83.6" fill="#256444"/><rect x="1093.30" y="505.0" width="1.75" height="91.8" fill="#2a7048"/><rect x="1095.20" y="515.5" width="1.75" height="81.3" fill="#732a2f"/><rect x="1097.10" y="516.1" width="1.75" height="80.7" fill="#732a2f"/><rect x="1099.00" y="515.4" width="1.75" height="81.4" fill="#256444"/><rect x="1100.90" y="506.6" width="1.75" height="90.2" fill="#7a2a30"/><rect x="1102.80" y="514.1" width="1.75" height="82.7" fill="#732a2f"/><rect x="1104.70" y="512.6" width="1.75" height="84.2" fill="#732a2f"/><rect x="1106.60" y="516.1" width="1.75" height="80.7" fill="#732a2f"/><rect x="1108.50" y="515.5" width="1.75" height="81.3" fill="#256444"/><rect x="1110.40" y="512.7" width="1.75" height="84.1" fill="#732a2f"/><rect x="1112.30" y="514.5" width="1.75" height="82.3" fill="#732a2f"/><rect x="1114.20" y="509.7" width="1.75" height="87.1" fill="#732a2f"/><rect x="1116.10" y="511.0" width="1.75" height="85.8" fill="#732a2f"/><rect x="1118.00" y="512.3" width="1.75" height="84.5" fill="#256444"/><rect x="1119.90" y="515.3" width="1.75" height="81.5" fill="#732a2f"/><rect x="1121.80" y="516.2" width="1.75" height="80.6" fill="#732a2f"/><rect x="1123.70" y="513.7" width="1.75" height="83.1" fill="#256444"/><rect x="1125.60" y="512.2" width="1.75" height="84.6" fill="#732a2f"/><rect x="1127.50" y="509.1" width="1.75" height="87.7" fill="#256444"/><rect x="1129.40" y="514.8" width="1.75" height="82.0" fill="#256444"/><rect x="1131.30" y="515.3" width="1.75" height="81.5" fill="#732a2f"/><rect x="1133.20" y="512.7" width="1.75" height="84.1" fill="#256444"/><rect x="1135.10" y="514.5" width="1.75" height="82.3" fill="#732a2f"/><rect x="1137.00" y="515.9" width="1.75" height="80.9" fill="#732a2f"/><rect x="1138.90" y="518.9" width="1.75" height="77.9" fill="#256444"/><rect x="1140.80" y="516.3" width="1.75" height="80.5" fill="#256444"/><rect x="1142.70" y="516.7" width="1.75" height="80.1" fill="#256444"/><rect x="1144.60" y="519.4" width="1.75" height="77.4" fill="#732a2f"/><rect x="1146.50" y="517.8" width="1.75" height="79.0" fill="#256444"/><rect x="1148.40" y="518.0" width="1.75" height="78.8" fill="#256444"/><rect x="1150.30" y="525.5" width="1.75" height="71.3" fill="#732a2f"/><rect x="1152.20" y="523.0" width="1.75" height="73.8" fill="#256444"/><rect x="1154.10" y="526.6" width="1.75" height="70.2" fill="#256444"/><rect x="1156.00" y="528.6" width="1.75" height="68.2" fill="#732a2f"/><rect x="1157.90" y="525.9" width="1.75" height="70.9" fill="#732a2f"/><rect x="1159.80" y="524.5" width="1.75" height="72.3" fill="#256444"/><rect x="1161.70" y="528.7" width="1.75" height="68.1" fill="#256444"/><rect x="1163.60" y="510.8" width="1.75" height="86.0" fill="#2a7048"/><rect x="1165.50" y="528.1" width="1.75" height="68.7" fill="#732a2f"/><rect x="1167.40" y="527.4" width="1.75" height="69.4" fill="#732a2f"/><rect x="1169.30" y="523.4" width="1.75" height="73.4" fill="#732a2f"/><rect x="1171.20" y="522.5" width="1.75" height="74.3" fill="#732a2f"/><rect x="1173.10" y="523.5" width="1.75" height="73.3" fill="#256444"/><rect x="1175.00" y="526.9" width="1.75" height="69.9" fill="#256444"/><rect x="1176.90" y="525.5" width="1.75" height="71.3" fill="#732a2f"/><rect x="1178.80" y="519.1" width="1.75" height="77.7" fill="#732a2f"/><rect x="1180.70" y="518.3" width="1.75" height="78.5" fill="#256444"/><rect x="1182.60" y="514.9" width="1.75" height="81.9" fill="#256444"/><rect x="1184.50" y="516.8" width="1.75" height="80.0" fill="#732a2f"/><rect x="1186.40" y="511.4" width="1.75" height="85.4" fill="#732a2f"/><rect x="1188.30" y="505.9" width="1.75" height="90.9" fill="#732a2f"/><rect x="1190.20" y="509.9" width="1.75" height="86.9" fill="#256444"/><rect x="1192.10" y="514.0" width="1.75" height="82.8" fill="#732a2f"/><rect x="1194.00" y="518.9" width="1.75" height="77.9" fill="#732a2f"/><rect x="1195.90" y="517.0" width="1.75" height="79.8" fill="#256444"/><rect x="1197.80" y="521.3" width="1.75" height="75.5" fill="#256444"/><rect x="1199.70" y="526.0" width="1.75" height="70.8" fill="#256444"/><rect x="1201.60" y="526.9" width="1.75" height="69.9" fill="#256444"/><rect x="1203.50" y="529.8" width="1.75" height="67.0" fill="#256444"/><rect x="1205.40" y="530.6" width="1.75" height="66.2" fill="#256444"/><rect x="1207.30" y="530.7" width="1.75" height="66.1" fill="#732a2f"/><rect x="1209.20" y="525.6" width="1.75" height="71.2" fill="#256444"/><rect x="1211.10" y="520.8" width="1.75" height="76.0" fill="#256444"/><rect x="1213.00" y="517.0" width="1.75" height="79.8" fill="#732a2f"/><rect x="1214.90" y="518.3" width="1.75" height="78.5" fill="#256444"/><rect x="1216.80" y="521.4" width="1.75" height="75.4" fill="#732a2f"/><rect x="1218.70" y="520.3" width="1.75" height="76.5" fill="#732a2f"/><rect x="1220.60" y="525.4" width="1.75" height="71.4" fill="#256444"/><rect x="1222.50" y="527.4" width="1.75" height="69.4" fill="#256444"/><rect x="1224.40" y="526.2" width="1.75" height="70.6" fill="#256444"/><rect x="1226.30" y="531.3" width="1.75" height="65.5" fill="#256444"/><rect x="1228.20" y="535.1" width="1.75" height="61.7" fill="#256444"/><rect x="1230.10" y="530.3" width="1.75" height="66.5" fill="#256444"/><rect x="1232.00" y="535.6" width="1.75" height="61.2" fill="#256444"/><rect x="1233.90" y="531.7" width="1.75" height="65.1" fill="#732a2f"/><rect x="1235.80" y="531.3" width="1.75" height="65.5" fill="#732a2f"/><rect x="1237.70" y="531.2" width="1.75" height="65.6" fill="#256444"/><rect x="1239.60" y="524.8" width="1.75" height="72.0" fill="#256444"/><rect x="1241.50" y="519.0" width="1.75" height="77.8" fill="#732a2f"/><rect x="1243.40" y="511.1" width="1.75" height="85.7" fill="#732a2f"/><rect x="1245.30" y="516.5" width="1.75" height="80.3" fill="#732a2f"/><rect x="1247.20" y="521.2" width="1.75" height="75.6" fill="#732a2f"/><rect x="1249.10" y="523.6" width="1.75" height="73.2" fill="#732a2f"/><rect x="1251.00" y="512.6" width="1.75" height="84.2" fill="#256444"/><rect x="1252.90" y="515.5" width="1.75" height="81.3" fill="#732a2f"/><rect x="1254.80" y="523.1" width="1.75" height="73.7" fill="#256444"/><rect x="1256.70" y="522.0" width="1.75" height="74.8" fill="#256444"/><rect x="1258.60" y="517.4" width="1.75" height="79.4" fill="#732a2f"/><rect x="1260.50" y="522.0" width="1.75" height="74.8" fill="#256444"/><rect x="1262.40" y="522.6" width="1.75" height="74.2" fill="#256444"/><rect x="1264.30" y="523.4" width="1.75" height="73.4" fill="#732a2f"/><rect x="1266.20" y="524.7" width="1.75" height="72.1" fill="#732a2f"/><rect x="1268.10" y="523.7" width="1.75" height="73.1" fill="#732a2f"/><rect x="1270.00" y="517.8" width="1.75" height="79.0" fill="#732a2f"/><rect x="1271.90" y="521.2" width="1.75" height="75.6" fill="#256444"/><rect x="1273.80" y="515.1" width="1.75" height="81.7" fill="#732a2f"/><rect x="1275.70" y="516.4" width="1.75" height="80.4" fill="#256444"/><rect x="1277.60" y="512.0" width="1.75" height="84.8" fill="#732a2f"/><rect x="1279.50" y="510.5" width="1.75" height="86.3" fill="#256444"/><rect x="1281.40" y="508.4" width="1.75" height="88.4" fill="#256444"/><rect x="1283.30" y="508.1" width="1.75" height="88.7" fill="#732a2f"/><rect x="1285.20" y="516.2" width="1.75" height="80.6" fill="#732a2f"/><rect x="1287.10" y="512.9" width="1.75" height="83.9" fill="#256444"/><rect x="1289.00" y="510.4" width="1.75" height="86.4" fill="#256444"/><rect x="1290.90" y="516.4" width="1.75" height="80.4" fill="#256444"/><rect x="1292.80" y="518.9" width="1.75" height="77.9" fill="#732a2f"/><rect x="1294.70" y="516.6" width="1.75" height="80.2" fill="#732a2f"/><rect x="1296.60" y="518.6" width="1.75" height="78.2" fill="#732a2f"/><rect x="1298.50" y="516.8" width="1.75" height="80.0" fill="#732a2f"/><rect x="1300.40" y="511.1" width="1.75" height="85.7" fill="#732a2f"/><rect x="1302.30" y="514.2" width="1.75" height="82.6" fill="#256444"/><rect x="1304.20" y="508.8" width="1.75" height="88.0" fill="#256444"/><rect x="1306.10" y="504.9" width="1.75" height="91.9" fill="#732a2f"/><rect x="1308.00" y="506.4" width="1.75" height="90.4" fill="#256444"/><rect x="1309.90" y="508.3" width="1.75" height="88.5" fill="#256444"/><rect x="1311.80" y="506.0" width="1.75" height="90.8" fill="#732a2f"/><rect x="1313.70" y="504.4" width="1.75" height="92.4" fill="#256444"/><rect x="1315.60" y="512.2" width="1.75" height="84.6" fill="#256444"/><rect x="1317.50" y="515.9" width="1.75" height="80.9" fill="#732a2f"/><rect x="1319.40" y="520.4" width="1.75" height="76.4" fill="#256444"/><rect x="1321.30" y="517.2" width="1.75" height="79.6" fill="#732a2f"/><rect x="1323.20" y="521.9" width="1.75" height="74.9" fill="#732a2f"/><rect x="1325.10" y="517.7" width="1.75" height="79.1" fill="#732a2f"/><rect x="1327.00" y="521.8" width="1.75" height="75.0" fill="#256444"/><rect x="1328.90" y="520.4" width="1.75" height="76.4" fill="#732a2f"/><rect x="1330.80" y="516.4" width="1.75" height="80.4" fill="#732a2f"/><rect x="1332.70" y="511.2" width="1.75" height="85.6" fill="#732a2f"/><rect x="1334.60" y="510.6" width="1.75" height="86.2" fill="#732a2f"/><rect x="1336.50" y="521.8" width="1.75" height="75.0" fill="#256444"/><rect x="1338.40" y="514.4" width="1.75" height="82.4" fill="#256444"/><rect x="1340.30" y="508.8" width="1.75" height="88.0" fill="#732a2f"/><rect x="1342.20" y="511.2" width="1.75" height="85.6" fill="#256444"/><rect x="1344.10" y="509.4" width="1.75" height="87.4" fill="#732a2f"/><rect x="1346.00" y="505.9" width="1.75" height="90.9" fill="#256444"/><rect x="1347.90" y="505.0" width="1.75" height="91.8" fill="#732a2f"/><rect x="1349.80" y="506.7" width="1.75" height="90.1" fill="#732a2f"/><rect x="1351.70" y="508.7" width="1.75" height="88.1" fill="#256444"/><rect x="1353.60" y="512.5" width="1.75" height="84.3" fill="#256444"/><rect x="1355.50" y="513.6" width="1.75" height="83.2" fill="#732a2f"/><rect x="1357.40" y="512.2" width="1.75" height="84.6" fill="#256444"/><rect x="1359.30" y="518.1" width="1.75" height="78.7" fill="#256444"/><rect x="1361.20" y="526.1" width="1.75" height="70.7" fill="#732a2f"/><rect x="1363.10" y="523.2" width="1.75" height="73.6" fill="#256444"/><rect x="1365.00" y="521.3" width="1.75" height="75.5" fill="#732a2f"/><rect x="1366.90" y="522.5" width="1.75" height="74.3" fill="#256444"/><rect x="1368.80" y="522.2" width="1.75" height="74.6" fill="#256444"/><rect x="1370.70" y="521.3" width="1.75" height="75.5" fill="#256444"/><rect x="1372.60" y="518.1" width="1.75" height="78.7" fill="#732a2f"/><rect x="1374.50" y="514.3" width="1.75" height="82.5" fill="#256444"/><rect x="1376.40" y="511.4" width="1.75" height="85.4" fill="#732a2f"/><rect x="1378.30" y="515.0" width="1.75" height="81.8" fill="#256444"/><rect x="1380.20" y="517.2" width="1.75" height="79.6" fill="#732a2f"/><rect x="1382.10" y="519.0" width="1.75" height="77.8" fill="#732a2f"/><rect x="1384.00" y="523.2" width="1.75" height="73.6" fill="#732a2f"/><rect x="1385.90" y="523.3" width="1.75" height="73.5" fill="#256444"/><rect x="1387.80" y="517.8" width="1.75" height="79.0" fill="#256444"/><rect x="1389.70" y="535.6" width="1.75" height="61.2" fill="#732a2f"/><rect x="1391.60" y="543.7" width="1.75" height="53.1" fill="#256444"/></g><rect x="56.5" y="322.0" width="74.1" height="238.0" fill="#fff" fill-opacity="0.205" stroke="#fff" stroke-opacity="0.09" stroke-width="1"/><line x1="93.5" y1="324.0" x2="93.5" y2="560.0" stroke="#505050" stroke-width="1" stroke-dasharray="5,3"/><path d="M91.0,328.5 L93.5,324.0 L96.1,328.5 Z" fill="#565656"/><rect x="226.0" y="311.7" width="99.2" height="180.5" fill="#fff" fill-opacity="0.205" stroke="#fff" stroke-opacity="0.09" stroke-width="1"/><line x1="275.6" y1="313.7" x2="275.6" y2="492.2" stroke="#505050" stroke-width="1" stroke-dasharray="5,3"/><path d="M273.0,318.2 L275.6,313.7 L278.2,318.2 Z" fill="#565656"/><rect x="397.5" y="338.2" width="70.2" height="70.5" fill="#fff" fill-opacity="0.205" stroke="#fff" stroke-opacity="0.09" stroke-width="1"/><line x1="432.6" y1="340.2" x2="432.6" y2="408.7" stroke="#505050" stroke-width="1" stroke-dasharray="5,3"/><path d="M430.0,344.7 L432.6,340.2 L435.2,344.7 Z" fill="#565656"/><rect x="539.3" y="296.7" width="71.2" height="133.0" fill="#fff" fill-opacity="0.205" stroke="#fff" stroke-opacity="0.09" stroke-width="1"/><line x1="574.9" y1="298.7" x2="574.9" y2="429.7" stroke="#505050" stroke-width="1" stroke-dasharray="5,3"/><path d="M572.3,303.2 L574.9,298.7 L577.5,303.2 Z" fill="#565656"/><rect x="775.8" y="118.1" width="120.8" height="263.0" fill="#fff" fill-opacity="0.205" stroke="#fff" stroke-opacity="0.09" stroke-width="1"/><line x1="836.2" y1="120.1" x2="836.2" y2="381.1" stroke="#505050" stroke-width="1" stroke-dasharray="5,3"/><path d="M833.6,124.6 L836.2,120.1 L838.8,124.6 Z" fill="#565656"/><rect x="972.2" y="88.8" width="63.6" height="137.6" fill="#fff" fill-opacity="0.205" stroke="#fff" stroke-opacity="0.09" stroke-width="1"/><line x1="1004.0" y1="90.8" x2="1004.0" y2="226.4" stroke="#505050" stroke-width="1" stroke-dasharray="5,3"/><path d="M1001.4,95.3 L1004.0,90.8 L1006.6,95.3 Z" fill="#565656"/><rect x="1160.8" y="158.9" width="160.3" height="39.6" fill="#fff" fill-opacity="0.205" stroke="#fff" stroke-opacity="0.09" stroke-width="1"/><line x1="1240.9" y1="160.9" x2="1240.9" y2="198.5" stroke="#505050" stroke-width="1" stroke-dasharray="5,3"/><path d="M1238.3,165.4 L1240.9,160.9 L1243.5,165.4 Z" fill="#565656"/><rect x="1395.4" y="78.2" width="61.8" height="173.2" fill="#fff" fill-opacity="0.205" stroke="#fff" stroke-opacity="0.09" stroke-width="1"/><line x1="1426.3" y1="80.2" x2="1426.3" y2="251.4" stroke="#505050" stroke-width="1" stroke-dasharray="5,3"/><path d="M1423.7,84.7 L1426.3,80.2 L1428.9,84.7 Z" fill="#565656"/><line x1="5.3" y1="597.5" x2="1594.7" y2="597.5" stroke="#8a8a8a" stroke-width="1"/><line x1="6.8" y1="745" x2="1594.7" y2="745" stroke="#5e5e5e" stroke-width="1"/><line x1="1494.5" y1="34.8" x2="1494.5" y2="767.6" stroke="#777" stroke-width="1"/><line x1="5.3" y1="647.8" x2="1494.5" y2="647.8" stroke="#9a9a9a" stroke-width="1" stroke-dasharray="5,4"/><line x1="5.3" y1="710.3" x2="1494.5" y2="710.3" stroke="#9a9a9a" stroke-width="1" stroke-dasharray="5,4"/><rect x="37.4" y="683.5" width="43.2" height="26.8" fill="#486438" fill-opacity="0.62" stroke="#9cc584" stroke-width="1"/><rect x="188.3" y="688.4" width="58.3" height="26.8" fill="#486438" fill-opacity="0.62" stroke="#9cc584" stroke-width="1"/><rect x="358.2" y="690.2" width="64.3" height="26.1" fill="#486438" fill-opacity="0.62" stroke="#9cc584" stroke-width="1"/><rect x="492.1" y="699.4" width="79.7" height="22.4" fill="#486438" fill-opacity="0.62" stroke="#9cc584" stroke-width="1"/><rect x="739.6" y="696.3" width="55.0" height="29.9" fill="#486438" fill-opacity="0.62" stroke="#9cc584" stroke-width="1"/><rect x="962.3" y="696.3" width="27.3" height="24.9" fill="#486438" fill-opacity="0.62" stroke="#9cc584" stroke-width="1"/><rect x="1140.0" y="709.0" width="47.7" height="27.2" fill="#486438" fill-opacity="0.62" stroke="#9cc584" stroke-width="1"/><rect x="1317.4" y="685.7" width="80.0" height="43.8" fill="#486438" fill-opacity="0.62" stroke="#9cc584" stroke-width="1"/><line x1="121" y1="325.5" x2="1460" y2="249.2" stroke="#fff" stroke-width="2.2" stroke-linecap="round" stroke-dasharray="0.1,5"/><line x1="182" y1="504" x2="1489" y2="240" stroke="#fff" stroke-width="2.2" stroke-linecap="round" stroke-dasharray="0.1,5"/><line x1="5.3" y1="241.4" x2="1494.5" y2="241.4" stroke="#fff" stroke-width="1.1" stroke-dasharray="1.1,1.5"/><path d="M407.20000000000005,421.6L418.0,432.4M418.0,421.6L407.20000000000005,432.4" stroke="#ec0d18" stroke-width="5.4" stroke-linecap="round"/><path d="M1174.0,206.2L1184.8000000000002,217.0M1184.8000000000002,206.2L1174.0,217.0" stroke="#ec0d18" stroke-width="5.4" stroke-linecap="round"/><g clip-path="url(#cp)"><rect x="-32.5" y="305.3" width="250.5" height="12.9" rx="3" fill="#e4e4e4"/><text x="-28.5" y="315.1" font-family="DejaVu Sans, sans-serif" font-size="9.5" fill="#222" textLength="242.5" lengthAdjust="spacingAndGlyphs">3418818.73697024 (882.55%) 341881873697024</text><rect x="153.6" y="295.6" width="246.7" height="11.2" rx="3" fill="#e4e4e4"/><text x="157.6" y="304.5" font-family="DejaVu Sans, sans-serif" font-size="9.5" fill="#222" textLength="238.7" lengthAdjust="spacingAndGlyphs">3453361.99503355 (462.98%) 345336199503355</text><rect x="311.8" y="321.2" width="242.2" height="13.1" rx="3" fill="#e4e4e4"/><text x="315.8" y="331.1" font-family="DejaVu Sans, sans-serif" font-size="9.5" fill="#222" textLength="234.2" lengthAdjust="spacingAndGlyphs">1593327.09420819 (95.73%) 159332709420819</text><rect x="451.7" y="280.0" width="247.8" height="13.1" rx="3" fill="#e4e4e4"/><text x="455.7" y="289.9" font-family="DejaVu Sans, sans-serif" font-size="9.5" fill="#222" textLength="239.8" lengthAdjust="spacingAndGlyphs">3510047.65049061 (258.81%) 351004765049061</text><rect x="702.9" y="101.7" width="267.4" height="12.3" rx="3" fill="#e4e4e4"/><text x="706.9" y="111.1" font-family="DejaVu Sans, sans-serif" font-size="9.5" fill="#222" textLength="259.4" lengthAdjust="spacingAndGlyphs">24787840.07740063 (1145.96%) 2478784007740063</text><rect x="874.0" y="72.9" width="260.2" height="12.4" rx="3" fill="#e4e4e4"/><text x="878.0" y="82.4" font-family="DejaVu Sans, sans-serif" font-size="9.5" fill="#222" textLength="252.2" lengthAdjust="spacingAndGlyphs">26079749.68530686 (273.81%) 2607974968530686</text><rect x="1119.8" y="142.5" width="243.1" height="12.7" rx="3" fill="#e4e4e4"/><text x="1123.8" y="152.2" font-family="DejaVu Sans, sans-serif" font-size="9.5" fill="#222" textLength="235.1" lengthAdjust="spacingAndGlyphs">5710055.16214026 (45.75%) 571005516214026</text><rect x="1296.8" y="61.9" width="260.0" height="12.4" rx="3" fill="#e4e4e4"/><text x="1300.8" y="71.4" font-family="DejaVu Sans, sans-serif" font-size="9.5" fill="#222" textLength="252.0" lengthAdjust="spacingAndGlyphs">32093303.76136626 (427.27%) 3209330376136626</text></g><polyline points="6.5,463.7 8.2,478.5 10.5,462.1 12.4,470.3 14.4,467.0 16.4,480.0 19.6,480.0 21.6,463.0 24.2,470.3 26.8,468.7 29.4,444.1 31.7,449.0 34.7,426.1 36.6,444.1 38.6,454.0 39.9,449.0 41.9,455.6 43.5,454.0 45.8,476.8 48.4,493.2 50.7,512.8 52.3,496.5 55.0,519.4 57.2,503.0 58.9,516.1 60.8,506.3 64.1,525.9 67.1,558.6 69.7,532.4 72.6,476.8 74.6,424.5 77.5,406.5 79.8,414.7 81.8,411.4 83.7,418.0 85.7,431.0 88.3,432.7 90.3,434.3 92.2,406.5 95.5,403.2 98.1,411.4 100.8,421.2 104.0,422.9 106.6,421.2 108.6,414.7 110.6,422.9 113.8,422.9 116.1,419.6 118.4,421.2 120.4,416.3 122.7,414.7 124.3,416.3 125.9,324.7 127.6,414.7 130.2,418.0 132.5,391.8 135.3,369.5 137.5,409.1 138.5,392.0 141.8,400.5 143.9,404.8 146.7,390.9 149.2,417.6 151.4,420.8 153.9,430.4 156.1,428.3 158.9,433.7 161.6,427.2 164.2,424.0 166.8,427.2 169.1,441.1 171.0,430.4 172.7,434.7 174.9,429.4 177.4,430.4 179.6,428.3 181.7,431.5 184.5,436.9 187.7,445.4 190.9,452.9 194.1,456.1 197.3,450.8 199.5,449.7 201.6,452.9 203.7,451.8 206.5,458.2 209.1,468.9 211.9,478.5 214.4,476.4 217.6,468.9 220.2,465.7 222.3,467.9 224.0,465.7 226.2,468.9 228.7,468.5 231.5,472.1 234.3,479.6 236.4,492.4 239.0,489.2 241.1,477.5 243.3,464.6 245.8,451.8 248.6,449.7 251.4,446.5 254.0,441.1 256.5,436.9 258.2,435.8 259.9,428.3 260.8,424.0 262.5,427.2 264.6,424.0 267.6,418.0 271.2,410.0 274.7,425.0 278.2,426.8 281.7,424.1 284.4,422.4 286.1,426.8 289.7,424.1 292.3,426.8 295.8,432.1 298.5,428.5 300.2,414.5 302.9,400.4 304.6,386.3 305.9,379.2 307.3,386.3 309.0,381.0 311.1,372.2 313.4,365.2 315.2,361.6 316.1,335.2 317.8,324.7 321.3,317.6 324.9,313.2 327.5,322.9 330.2,329.1 332.8,334.3 334.6,339.6 337.2,335.2 339.8,336.1 341.6,342.3 342.8,351.1 344.2,342.3 345.6,347.5 347.1,356.3 348.6,340.5 351.3,340.5 353.0,349.3 354.8,351.1 356.6,352.8 358.3,351.1 361.0,349.3 362.7,363.4 364.5,375.7 366.2,382.8 368.0,380.1 369.8,386.3 371.5,381.0 374.2,374.8 376.8,379.2 379.5,381.9 382.1,389.8 383.9,384.5 386.5,386.3 388.3,382.8 390.9,383.6 393.5,386.3 396.2,385.4 398.8,388.9 401.5,389.8 404.5,389.4 406.8,395.4 409.1,396.2 411.3,399.2 412.8,407.5 414.3,395.4 416.6,389.4 418.9,383.4 420.4,372.8 422.3,373.6 424.1,375.8 426.4,375.8 429.4,374.3 430.9,362.2 433.2,349.4 435.4,353.2 437.7,348.7 439.5,346.4 441.5,350.9 443.0,355.4 444.5,348.7 445.6,343.4 446.8,362.2 448.0,373.6 449.8,372.0 452.0,374.3 454.3,376.6 456.1,372.8 458.1,366.0 459.6,370.5 461.5,371.3 463.4,371.3 464.6,340.4 465.6,362.2 467.1,353.9 469.4,351.7 471.7,349.4 473.9,347.9 475.4,354.7 477.2,350.9 478.7,354.7 480.7,352.4 482.2,357.0 483.7,353.9 485.2,357.0 487.5,357.0 489.8,359.2 492.0,359.2 493.5,363.7 496.5,369.8 499.6,375.1 503.3,381.8 505.6,380.3 507.9,386.4 510.1,395.4 512.4,403.0 514.6,400.0 516.9,393.9 518.4,398.4 519.9,413.5 520.7,420.3 522.9,419.6 524.5,415.8 526.7,416.5 529.7,414.3 532.0,415.0 534.3,419.6 536.5,424.1 538.8,422.6 540.7,416.4 543.5,413.6 546.3,424.0 549.2,428.7 551.0,429.6 552.9,424.0 555.8,424.9 558.6,424.0 561.4,424.9 563.3,425.8 565.6,410.8 568.0,411.7 569.9,411.7 571.8,397.5 573.7,380.6 575.6,383.4 578.4,382.5 580.3,369.2 582.2,344.7 584.4,356.0 586.9,369.2 588.8,367.4 590.7,356.0 593.5,355.1 595.4,340.9 597.3,324.9 599.2,314.5 601.0,301.3 602.9,304.2 605.2,308.9 606.7,320.2 608.6,311.7 610.5,322.1 612.7,310.8 615.2,314.5 618.0,322.1 620.8,335.3 622.7,336.2 624.6,330.6 626.5,335.3 628.4,339.1 629.7,349.4 632.2,346.6 634.1,327.7 636.9,335.3 639.7,330.6 642.5,328.7 645.4,308.9 648.2,313.6 650.5,318.3 652.0,325.8 653.5,315.5 654.8,324.9 657.6,322.1 660.5,326.8 662.4,316.4 663.7,352.3 665.6,325.8 668.0,331.5 670.8,337.2 673.0,342.6 675.7,346.4 677.5,334.3 679.1,328.3 681.3,325.3 683.3,322.2 685.1,306.4 686.6,317.7 688.1,323.0 690.4,322.2 692.6,319.2 695.6,314.7 697.9,317.0 699.9,315.5 702.4,317.0 705.5,320.0 707.7,318.5 710.0,313.9 711.9,311.7 713.7,317.7 715.0,323.0 716.8,319.2 719.8,315.5 722.5,307.9 724.3,310.9 726.6,313.9 728.8,310.9 730.3,313.9 731.8,311.7 733.4,317.0 735.6,324.5 737.9,323.7 740.1,323.7 741.7,319.2 743.9,325.3 746.2,335.8 747.7,345.6 749.2,345.6 751.5,338.8 753.7,339.6 756.0,341.8 757.2,341.1 759.0,349.4 760.5,352.4 762.8,351.7 765.8,355.4 768.1,360.0 769.6,369.0 771.1,362.2 773.3,362.2 775.6,363.0 777.9,364.5 780.1,369.0 782.4,373.5 784.6,381.8 786.2,377.3 788.4,370.5 790.7,358.4 792.5,356.9 794.5,349.4 796.4,350.9 798.2,354.7 800.5,353.2 802.7,353.9 805.0,350.9 808.3,356.9 811.5,358.5 814.8,350.3 818.1,356.9 820.7,365.1 824.0,353.6 827.2,345.4 829.5,325.8 831.8,293.1 834.4,270.2 837.0,260.4 839.3,267.0 841.0,247.3 843.6,245.7 845.9,252.2 848.2,258.8 850.8,255.5 854.1,244.1 857.3,240.8 859.6,237.5 861.2,224.5 863.2,208.1 864.8,216.3 867.1,193.4 869.7,186.8 872.0,175.4 873.7,162.3 876.0,149.2 878.6,159.1 880.2,168.9 882.5,152.5 885.1,150.9 887.4,149.2 889.4,142.7 891.0,123.1 893.3,121.4 895.9,124.7 898.2,128.0 899.8,132.9 902.4,136.2 904.7,142.7 907.0,150.9 909.0,165.6 911.3,155.8 913.6,167.2 916.2,157.4 918.5,172.1 920.1,146.0 922.0,156.4 924.0,146.4 926.0,155.4 927.6,146.4 930.1,173.5 932.5,162.5 935.1,149.4 936.5,156.4 939.1,148.4 942.1,152.4 946.2,158.5 949.2,161.5 951.2,160.5 953.2,162.5 955.8,157.5 958.2,160.5 960.2,163.5 962.2,162.5 964.3,176.6 966.3,188.6 968.7,187.6 970.3,192.7 971.9,206.7 973.3,189.6 974.7,196.7 977.3,198.7 979.9,214.8 982.0,220.8 984.0,199.7 985.4,178.6 987.4,178.6 989.4,196.7 991.4,178.6 994.4,179.6 996.4,194.7 998.5,195.7 1000.1,189.6 1001.5,223.8 1003.5,220.8 1005.5,216.8 1006.9,174.5 1008.5,189.6 1009.5,147.4 1011.5,140.4 1013.5,149.4 1015.6,120.2 1018.6,98.1 1021.0,111.2 1022.6,98.1 1024.6,90.1 1026.6,97.1 1029.6,99.1 1031.6,101.1 1034.7,98.1 1036.3,97.1 1038.7,103.1 1040.7,106.2 1043.1,99.1 1045.7,102.1 1048.7,119.2 1051.8,119.2 1054.8,128.3 1057.6,131.4 1060.3,130.5 1062.9,133.1 1065.6,136.7 1068.2,141.1 1070.0,139.3 1071.7,145.5 1074.4,146.3 1077.9,145.5 1080.5,136.7 1083.2,132.3 1085.8,123.5 1088.5,114.7 1091.1,112.9 1093.7,107.6 1095.9,105.8 1098.1,107.6 1100.8,111.1 1103.4,112.0 1106.1,114.7 1108.7,116.4 1112.2,119.9 1114.9,112.9 1117.5,116.4 1120.2,120.8 1122.8,122.6 1125.4,124.3 1127.2,127.9 1129.8,134.0 1131.6,132.3 1134.2,133.1 1136.9,134.0 1137.8,137.5 1139.5,136.7 1141.3,135.8 1143.0,142.8 1144.8,148.1 1147.4,152.5 1150.1,155.2 1152.7,156.9 1155.4,157.8 1157.1,164.0 1158.9,177.2 1160.7,177.2 1162.8,171.0 1164.5,174.5 1166.3,172.8 1167.7,178.0 1169.5,174.5 1171.2,178.9 1173.0,178.0 1175.3,186.8 1177.4,196.5 1179.1,188.6 1180.9,186.8 1182.7,176.3 1184.1,167.5 1185.7,172.8 1187.9,170.1 1190.0,170.4 1193.5,173.5 1195.3,172.6 1197.0,180.5 1199.7,180.5 1203.2,179.6 1205.8,180.1 1208.5,181.8 1212.0,174.3 1214.7,173.5 1217.3,174.8 1219.9,176.5 1222.6,178.7 1225.2,175.2 1227.0,179.6 1229.6,180.9 1233.1,183.6 1236.7,185.8 1239.3,178.7 1242.0,170.8 1245.5,169.1 1249.0,169.5 1252.5,168.6 1254.3,169.9 1256.9,174.8 1259.6,173.9 1262.2,173.5 1265.7,176.1 1269.2,177.9 1271.0,177.9 1273.6,175.7 1277.2,172.1 1280.7,169.1 1283.3,170.4 1285.1,170.4 1287.7,173.0 1290.4,169.5 1293.0,167.3 1295.2,165.1 1298.3,165.5 1300.9,164.2 1304.5,162.0 1307.1,164.7 1308.4,163.3 1311.1,168.2 1314.2,170.4 1316.4,169.9 1319.4,182.3 1323.8,178.7 1326.4,183.9 1329.1,195.7 1331.8,201.0 1333.4,189.3 1335.0,187.6 1338.2,190.9 1341.4,188.2 1345.7,185.0 1350.5,183.4 1353.2,190.3 1355.8,194.6 1357.4,201.0 1359.4,219.2 1360.6,212.8 1362.8,209.6 1366.5,217.1 1370.3,230.4 1373.5,228.3 1378.3,222.4 1381.0,224.5 1384.2,234.2 1386.3,242.7 1388.4,244.9 1389.5,239.5 1391.7,241.1" fill="none" stroke="#fff" stroke-width="2.4" stroke-linejoin="round"/><polyline points="6.4,659.3 8.2,669.3 10.0,662.0 12.8,667.5 14.6,665.6 17.3,678.4 20.1,678.4 21.9,665.6 24.6,672.0 27.3,671.1 29.2,658.3 31.0,658.3 32.8,652.9 34.6,642.8 36.5,654.7 38.3,667.5 40.1,668.4 41.9,674.7 43.8,674.7 45.6,683.9 47.8,693.0 50.1,703.9 52.0,695.7 54.3,699.4 56.5,695.7 58.3,697.5 60.2,693.9 62.9,699.4 65.3,699.4 67.1,705.7 69.3,699.4 71.1,691.2 72.9,669.3 74.7,650.1 76.6,646.5 78.4,641.9 80.2,645.6 82.0,650.1 83.9,650.1 85.7,662.9 87.5,665.6 90.2,667.5 92.1,652.0 94.4,651.0 96.6,656.5 99.4,663.8 102.1,668.4 105.7,669.3 108.5,662.9 110.8,672.9 113.9,672.0 116.7,667.5 118.5,672.0 120.3,668.4 121.8,665.6 123.6,670.2 125.8,621.9 127.3,654.7 128.5,679.3 131.3,679.3 134.0,671.1 135.8,662.9 137.1,676.6 139.5,674.7 142.2,676.6 144.9,677.5 146.8,673.8 148.6,681.1 151.3,683.9 154.1,684.8 156.8,686.6 159.5,686.6 162.3,684.8 165.0,683.9 167.7,684.8 169.6,689.3 171.4,685.7 174.1,685.7 176.8,683.9 179.6,684.8 182.3,683.9 185.1,686.6 187.8,691.2 190.5,697.5 193.3,698.4 196.0,697.5 196.8,694.8 199.6,693.0 202.3,693.9 205.0,694.8 207.8,698.4 210.5,707.6 212.9,709.4 215.1,705.7 217.8,697.5 220.5,695.7 222.3,698.4 224.2,693.9 226.9,695.7 229.6,696.6 232.4,700.3 235.1,704.8 236.9,711.2 239.7,707.6 241.5,700.3 243.3,683.9 246.0,664.7 248.8,662.9 250.6,661.1 253.3,654.7 256.1,650.1 257.9,648.3 260.3,637.4 262.1,644.7 264.3,641.9 267.0,639.2 268.8,638.3 271.2,631.9 272.5,643.8 274.3,654.7 277.0,664.7 279.8,662.9 282.1,662.9 284.3,660.2 286.5,666.5 289.8,664.7 292.5,668.4 295.6,683.0 298.0,672.9 300.4,643.8 302.6,636.5 305.3,624.6 307.1,638.3 309.9,634.6 312.6,627.3 314.4,623.7 316.2,610.9 318.6,616.4 320.8,619.1 322.6,618.2 324.4,616.4 327.2,635.6 329.9,643.8 332.6,648.3 333.6,654.7 335.4,644.7 338.1,653.8 340.9,660.2 342.7,672.9 344.5,670.2 347.2,683.9 349.1,672.0 351.8,672.9 354.5,681.1 357.3,683.0 360.0,680.2 361.8,680.2 363.6,693.0 365.5,703.9 368.2,703.0 370.0,705.7 372.8,701.2 375.5,694.8 378.2,696.6 381.0,697.5 383.7,703.9 386.4,698.4 389.2,695.7 391.9,697.5 393.6,697.5 396.4,699.4 398.2,696.6 400.9,699.4 403.7,701.2 405.5,703.9 407.3,703.9 409.1,706.7 411.0,708.5 412.8,713.9 414.6,693.0 417.3,683.9 420.1,664.7 422.5,667.5 424.6,666.5 427.4,669.3 429.7,666.5 431.6,649.2 433.4,639.2 435.6,647.4 438.3,641.0 440.7,646.5 442.9,660.2 445.1,649.2 446.5,662.0 448.0,682.0 450.2,685.7 452.4,684.8 454.7,686.6 456.5,680.2 458.4,677.5 460.2,682.0 462.9,682.0 464.4,658.3 465.7,671.1 467.5,667.5 470.2,664.7 473.0,662.9 475.7,671.1 477.5,668.4 480.2,672.9 482.1,671.1 484.8,674.7 487.5,675.7 489.9,677.5 492.5,678.4 494.8,685.7 497.6,693.9 500.3,699.4 503.0,703.0 505.8,703.0 508.5,709.4 511.2,714.9 514.0,716.7 516.7,708.5 518.5,714.9 520.4,720.3 523.1,718.5 525.8,714.9 528.6,713.9 531.3,711.2 534.0,713.9 536.8,718.5 539.5,709.4 542.2,700.3 545.0,703.9 547.7,711.2 550.4,711.2 553.2,703.9 555.9,703.0 558.6,703.0 561.4,702.1 563.2,703.9 565.0,675.7 567.8,675.7 569.6,677.5 571.4,662.0 572.9,639.2 575.1,646.5 577.8,645.6 580.5,632.8 582.3,619.1 584.2,635.6 586.8,659.3 589.0,658.3 591.4,650.1 594.1,649.2 595.9,636.5 598.7,628.3 601.4,621.9 603.6,631.0 605.4,647.4 607.8,646.5 609.6,649.2 611.4,658.3 613.3,652.0 615.1,654.7 617.8,665.6 620.6,679.3 623.3,679.3 624.7,673.8 626.9,680.2 629.7,689.3 632.4,687.5 634.2,672.9 637.0,676.6 639.7,674.7 641.9,673.8 645.2,654.7 647.9,660.2 650.6,667.5 652.1,672.0 653.4,668.4 655.2,674.7 657.9,673.8 660.7,678.4 662.1,669.3 663.8,697.5 666.1,679.3 668.9,683.0 672.5,686.6 676.2,690.2 678.9,678.4 681.6,673.8 683.4,672.0 685.3,659.3 687.1,671.1 689.8,673.8 692.6,670.2 695.3,666.5 697.7,670.2 699.9,667.5 702.6,670.2 705.3,673.8 708.1,671.1 710.8,663.8 712.6,671.1 714.4,680.2 717.2,675.7 719.9,670.2 722.6,661.1 725.0,669.3 727.2,667.5 729.0,671.1 730.9,669.3 732.7,672.9 735.4,689.3 738.1,686.6 740.9,681.1 743.6,689.3 745.4,698.4 748.2,709.4 750.9,700.3 752.7,699.4 755.5,701.2 757.3,704.8 760.0,709.4 763.7,709.4 767.3,711.2 770.1,720.3 771.9,712.1 775.5,709.4 778.3,712.1 781.0,713.9 782.8,718.5 784.6,722.2 787.3,709.4 789.1,705.7 790.9,685.7 792.4,684.8 794.2,673.8 796.4,674.7 798.2,680.2 801.0,680.2 802.8,677.5 804.6,680.2 806.4,675.7 808.3,684.8 810.1,683.9 811.9,688.4 814.6,670.2 817.4,678.4 819.2,687.5 821.0,696.6 822.8,682.0 824.7,675.7 827.4,670.2 828.9,663.8 830.7,649.2 832.5,629.2 834.7,618.2 836.5,615.5 838.3,626.4 840.2,617.3 842.0,627.3 843.8,625.5 845.6,635.6 848.4,643.8 851.1,638.3 853.8,633.7 856.6,639.2 859.3,634.6 862.0,622.8 864.2,633.7 865.7,623.7 868.4,622.8 872.1,618.2 875.2,611.9 877.5,627.3 879.9,641.9 882.1,634.6 885.7,633.7 888.5,631.0 891.2,621.9 894.0,623.7 896.7,629.2 899.4,642.8 901.8,645.6 904.0,654.7 906.7,665.6 908.5,683.9 910.4,677.5 913.1,685.7 915.8,680.2 918.6,689.3 920.7,670.2 923.1,678.4 925.9,672.0 927.7,683.0 929.9,689.3 932.2,678.4 935.0,672.0 938.6,671.1 941.3,674.7 945.0,680.2 947.7,683.0 950.5,683.9 952.3,683.0 955.0,680.2 957.8,683.9 960.5,686.6 963.2,691.2 965.6,705.7 967.8,705.7 970.5,705.7 972.3,714.9 974.2,701.2 976.0,703.0 977.8,707.6 978.6,709.4 981.4,714.9 983.2,699.4 985.0,678.4 986.9,679.3 989.2,690.2 991.4,687.5 993.2,678.4 995.1,677.5 997.2,689.3 999.6,686.6 1001.4,700.3 1004.2,699.4 1006.4,672.9 1007.8,680.2 1009.6,658.3 1011.5,654.7 1013.7,661.1 1015.1,649.2 1016.9,642.8 1018.8,637.4 1021.5,648.3 1022.8,643.8 1024.6,639.2 1027.0,647.4 1029.7,649.2 1032.4,651.0 1035.2,649.2 1037.9,656.5 1040.6,662.0 1043.4,655.6 1046.1,662.9 1048.8,678.4 1049.7,684.8 1052.0,680.2 1054.3,684.8 1057.0,689.3 1059.8,690.2 1062.5,691.2 1065.2,694.8 1068.0,698.4 1069.8,696.6 1071.6,701.2 1074.4,700.3 1077.1,699.4 1078.9,701.2 1081.7,683.9 1084.4,680.2 1087.1,665.6 1089.5,656.5 1091.7,656.5 1093.9,652.9 1096.2,648.3 1098.1,652.9 1100.4,657.4 1102.6,659.3 1105.4,663.8 1108.1,669.3 1110.8,676.6 1112.6,680.2 1115.0,666.5 1117.2,671.1 1119.9,678.4 1122.7,686.6 1125.4,691.2 1127.2,698.4 1129.1,705.7 1130.9,705.7 1132.7,698.4 1134.5,699.4 1136.4,698.4 1138.7,704.8 1140.9,703.9 1142.7,711.2 1144.6,716.7 1147.3,719.4 1150.0,721.2 1152.8,724.0 1155.5,720.3 1158.2,725.8 1160.1,731.3 1161.9,720.3 1164.6,725.8 1167.3,715.8 1169.2,718.5 1170.0,716.7 1172.7,717.6 1175.5,722.2 1177.7,725.8 1180.0,714.9 1182.4,712.2 1183.7,685.7 1185.5,693.0 1187.3,689.4 1189.7,685.7 1191.9,688.5 1194.6,690.3 1197.4,697.6 1200.1,696.7 1203.7,694.8 1208.3,696.7 1211.9,682.1 1215.6,680.2 1217.8,685.7 1220.2,683.9 1223.3,693.9 1225.6,682.1 1228.4,690.3 1231.1,693.9 1233.8,697.6 1237.1,699.4 1239.3,685.7 1242.0,667.5 1245.7,663.8 1248.4,664.7 1251.2,663.8 1253.9,665.7 1255.7,676.6 1258.5,678.4 1262.1,675.7 1264.8,681.2 1267.6,684.8 1270.3,689.4 1273.0,681.2 1276.7,676.6 1280.3,662.0 1282.7,666.6 1284.9,669.3 1287.6,677.5 1289.5,665.7 1292.2,662.9 1294.9,652.0 1297.7,656.5 1299.9,655.6 1302.2,652.0 1304.1,648.3 1305.3,649.2 1307.2,667.5 1308.6,659.3 1311.3,683.0 1314.1,684.8 1315.9,683.0 1317.7,693.0 1319.9,708.5 1322.3,704.9 1324.1,703.0 1326.5,710.3 1328.7,722.2 1331.4,726.8 1333.2,705.8 1336.0,699.4 1338.7,701.2 1341.4,698.5 1344.2,693.0 1346.5,687.5 1349.6,685.7 1352.4,696.7 1355.1,704.0 1357.5,713.1 1359.7,725.8 1362.4,711.3 1365.2,714.9 1367.9,720.4 1370.6,723.1 1373.4,721.3 1376.1,714.9 1378.8,709.4 1381.6,715.8 1384.3,721.3 1387.0,723.1 1388.9,716.7 1391.6,716.7" fill="none" stroke="#cacaca" stroke-width="1.9" stroke-linejoin="round"/><line x1="1494.5" y1="43.2" x2="1498.5" y2="43.2" stroke="#777" stroke-width="1"/><text x="1502.0" y="45.7" font-family="Liberation Sans, sans-serif" font-size="9.2" fill="#f4f4f4">56000000.00000000</text><line x1="1494.5" y1="69.2" x2="1498.5" y2="69.2" stroke="#777" stroke-width="1"/><text x="1502.0" y="71.7" font-family="Liberation Sans, sans-serif" font-size="9.2" fill="#f4f4f4">43500000.00000000</text><line x1="1494.5" y1="96.0" x2="1498.5" y2="96.0" stroke="#777" stroke-width="1"/><text x="1502.0" y="98.5" font-family="Liberation Sans, sans-serif" font-size="9.2" fill="#f4f4f4">33500000.00000000</text><line x1="1494.5" y1="124.3" x2="1498.5" y2="124.3" stroke="#777" stroke-width="1"/><text x="1502.0" y="126.8" font-family="Liberation Sans, sans-serif" font-size="9.2" fill="#f4f4f4">25500000.00000000</text><line x1="1494.5" y1="152.6" x2="1498.5" y2="152.6" stroke="#777" stroke-width="1"/><text x="1502.0" y="155.1" font-family="Liberation Sans, sans-serif" font-size="9.2" fill="#f4f4f4">19500000.00000000</text><line x1="1494.5" y1="175.8" x2="1498.5" y2="175.8" stroke="#777" stroke-width="1"/><text x="1502.0" y="178.3" font-family="Liberation Sans, sans-serif" font-size="9.2" fill="#f4f4f4">15500000.00000000</text><line x1="1494.5" y1="206.6" x2="1498.5" y2="206.6" stroke="#777" stroke-width="1"/><text x="1502.0" y="209.1" font-family="Liberation Sans, sans-serif" font-size="9.2" fill="#f4f4f4">11500000.00000000</text><line x1="1494.5" y1="233.0" x2="1498.5" y2="233.0" stroke="#777" stroke-width="1"/><text x="1502.0" y="235.5" font-family="Liberation Sans, sans-serif" font-size="9.2" fill="#f4f4f4">9000000.00000000</text><line x1="1494.5" y1="259.0" x2="1498.5" y2="259.0" stroke="#777" stroke-width="1"/><text x="1502.0" y="261.5" font-family="Liberation Sans, sans-serif" font-size="9.2" fill="#f4f4f4">7000000.00000000</text><line x1="1494.5" y1="285.8" x2="1498.5" y2="285.8" stroke="#777" stroke-width="1"/><text x="1502.0" y="288.3" font-family="Liberation Sans, sans-serif" font-size="9.2" fill="#f4f4f4">5400000.00000000</text><line x1="1494.5" y1="313.0" x2="1498.5" y2="313.0" stroke="#777" stroke-width="1"/><text x="1502.0" y="315.5" font-family="Liberation Sans, sans-serif" font-size="9.2" fill="#f4f4f4">4150000.00000000</text><line x1="1494.5" y1="342.9" x2="1498.5" y2="342.9" stroke="#777" stroke-width="1"/><text x="1502.0" y="345.4" font-family="Liberation Sans, sans-serif" font-size="9.2" fill="#f4f4f4">3150000.00000000</text><line x1="1494.5" y1="373.5" x2="1498.5" y2="373.5" stroke="#777" stroke-width="1"/><text x="1502.0" y="376.0" font-family="Liberation Sans, sans-serif" font-size="9.2" fill="#f4f4f4">2350000.00000000</text><line x1="1494.5" y1="397.4" x2="1498.5" y2="397.4" stroke="#777" stroke-width="1"/><text x="1502.0" y="399.9" font-family="Liberation Sans, sans-serif" font-size="9.2" fill="#f4f4f4">1850000.00000000</text><line x1="1494.5" y1="423.8" x2="1498.5" y2="423.8" stroke="#777" stroke-width="1"/><text x="1502.0" y="426.3" font-family="Liberation Sans, sans-serif" font-size="9.2" fill="#f4f4f4">1450000.00000000</text><line x1="1494.5" y1="446.7" x2="1498.5" y2="446.7" stroke="#777" stroke-width="1"/><text x="1502.0" y="449.2" font-family="Liberation Sans, sans-serif" font-size="9.2" fill="#f4f4f4">1150000.00000000</text><line x1="1494.5" y1="472.4" x2="1498.5" y2="472.4" stroke="#777" stroke-width="1"/><text x="1502.0" y="474.9" font-family="Liberation Sans, sans-serif" font-size="9.2" fill="#f4f4f4">910000.00000000</text><line x1="1494.5" y1="497.7" x2="1498.5" y2="497.7" stroke="#777" stroke-width="1"/><text x="1502.0" y="500.2" font-family="Liberation Sans, sans-serif" font-size="9.2" fill="#f4f4f4">710000.00000000</text><line x1="1494.5" y1="524.1" x2="1498.5" y2="524.1" stroke="#777" stroke-width="1"/><text x="1502.0" y="526.6" font-family="Liberation Sans, sans-serif" font-size="9.2" fill="#f4f4f4">550000.00000000</text><line x1="1494.5" y1="549.4" x2="1498.5" y2="549.4" stroke="#777" stroke-width="1"/><text x="1502.0" y="551.9" font-family="Liberation Sans, sans-serif" font-size="9.2" fill="#f4f4f4">430000.00000000</text><line x1="1494.5" y1="574.5" x2="1498.5" y2="574.5" stroke="#777" stroke-width="1"/><text x="1502.0" y="577.0" font-family="Liberation Sans, sans-serif" font-size="9.2" fill="#f4f4f4">340000.00000000</text><line x1="1494.5" y1="601.0" x2="1498.5" y2="601.0" stroke="#777" stroke-width="1"/><text x="1502.0" y="603.5" font-family="Liberation Sans, sans-serif" font-size="9.2" fill="#f4f4f4">100.0000</text><line x1="1494.5" y1="632.2" x2="1498.5" y2="632.2" stroke="#777" stroke-width="1"/><text x="1502.0" y="634.7" font-family="Liberation Sans, sans-serif" font-size="9.2" fill="#f4f4f4">80.0000</text><line x1="1494.5" y1="663.5" x2="1498.5" y2="663.5" stroke="#777" stroke-width="1"/><text x="1502.0" y="666.0" font-family="Liberation Sans, sans-serif" font-size="9.2" fill="#f4f4f4">60.0000</text><line x1="1494.5" y1="694.7" x2="1498.5" y2="694.7" stroke="#777" stroke-width="1"/><text x="1502.0" y="697.2" font-family="Liberation Sans, sans-serif" font-size="9.2" fill="#f4f4f4">40.0000</text><line x1="1494.5" y1="726.0" x2="1498.5" y2="726.0" stroke="#777" stroke-width="1"/><text x="1502.0" y="728.5" font-family="Liberation Sans, sans-serif" font-size="9.2" fill="#f4f4f4">20.0000</text><rect x="1494.5" y="234.1" width="94.2" height="14.2" fill="#f7f7f7"/><text x="1502.0" y="243.9" font-family="Liberation Sans, sans-serif" font-size="9.2" fill="#111" textLength="80.0" lengthAdjust="spacingAndGlyphs">8274481.88522680</text><line x1="97.0" y1="745" x2="97.0" y2="748" stroke="#888" stroke-width="1"/><text x="97.0" y="761.3" font-family="Liberation Sans, sans-serif" font-size="9.8" fill="#e8e8e8" font-weight="bold" text-anchor="middle" textLength="20.3" lengthAdjust="spacingAndGlyphs">2014</text><line x1="173.0" y1="745" x2="173.0" y2="748" stroke="#888" stroke-width="1"/><text x="173.0" y="761.3" font-family="Liberation Sans, sans-serif" font-size="9.8" fill="#e8e8e8" font-weight="bold" text-anchor="middle" textLength="17.0" lengthAdjust="spacingAndGlyphs">May</text><line x1="20.5" y1="745" x2="20.5" y2="748" stroke="#888" stroke-width="1"/><text x="20.5" y="761.3" font-family="Liberation Sans, sans-serif" font-size="9.8" fill="#e8e8e8" font-weight="bold" text-anchor="middle" textLength="16.1" lengthAdjust="spacingAndGlyphs">Sep</text><line x1="328.0" y1="745" x2="328.0" y2="748" stroke="#888" stroke-width="1"/><text x="328.0" y="761.3" font-family="Liberation Sans, sans-serif" font-size="9.8" fill="#e8e8e8" font-weight="bold" text-anchor="middle" textLength="20.3" lengthAdjust="spacingAndGlyphs">2015</text><line x1="404.0" y1="745" x2="404.0" y2="748" stroke="#888" stroke-width="1"/><text x="404.0" y="761.3" font-family="Liberation Sans, sans-serif" font-size="9.8" fill="#e8e8e8" font-weight="bold" text-anchor="middle" textLength="17.0" lengthAdjust="spacingAndGlyphs">May</text><line x1="251.5" y1="745" x2="251.5" y2="748" stroke="#888" stroke-width="1"/><text x="251.5" y="761.3" font-family="Liberation Sans, sans-serif" font-size="9.8" fill="#e8e8e8" font-weight="bold" text-anchor="middle" textLength="16.1" lengthAdjust="spacingAndGlyphs">Sep</text><line x1="558.5" y1="745" x2="558.5" y2="748" stroke="#888" stroke-width="1"/><text x="558.5" y="761.3" font-family="Liberation Sans, sans-serif" font-size="9.8" fill="#e8e8e8" font-weight="bold" text-anchor="middle" textLength="20.3" lengthAdjust="spacingAndGlyphs">2016</text><line x1="634.5" y1="745" x2="634.5" y2="748" stroke="#888" stroke-width="1"/><text x="634.5" y="761.3" font-family="Liberation Sans, sans-serif" font-size="9.8" fill="#e8e8e8" font-weight="bold" text-anchor="middle" textLength="17.0" lengthAdjust="spacingAndGlyphs">May</text><line x1="482.0" y1="745" x2="482.0" y2="748" stroke="#888" stroke-width="1"/><text x="482.0" y="761.3" font-family="Liberation Sans, sans-serif" font-size="9.8" fill="#e8e8e8" font-weight="bold" text-anchor="middle" textLength="16.1" lengthAdjust="spacingAndGlyphs">Sep</text><line x1="788.5" y1="745" x2="788.5" y2="748" stroke="#888" stroke-width="1"/><text x="788.5" y="761.3" font-family="Liberation Sans, sans-serif" font-size="9.8" fill="#e8e8e8" font-weight="bold" text-anchor="middle" textLength="20.3" lengthAdjust="spacingAndGlyphs">2017</text><line x1="864.5" y1="745" x2="864.5" y2="748" stroke="#888" stroke-width="1"/><text x="864.5" y="761.3" font-family="Liberation Sans, sans-serif" font-size="9.8" fill="#e8e8e8" font-weight="bold" text-anchor="middle" textLength="17.0" lengthAdjust="spacingAndGlyphs">May</text><line x1="712.0" y1="745" x2="712.0" y2="748" stroke="#888" stroke-width="1"/><text x="712.0" y="761.3" font-family="Liberation Sans, sans-serif" font-size="9.8" fill="#e8e8e8" font-weight="bold" text-anchor="middle" textLength="16.1" lengthAdjust="spacingAndGlyphs">Sep</text><line x1="1019.0" y1="745" x2="1019.0" y2="748" stroke="#888" stroke-width="1"/><text x="1019.0" y="761.3" font-family="Liberation Sans, sans-serif" font-size="9.8" fill="#e8e8e8" font-weight="bold" text-anchor="middle" textLength="20.3" lengthAdjust="spacingAndGlyphs">2018</text><line x1="1095.0" y1="745" x2="1095.0" y2="748" stroke="#888" stroke-width="1"/><text x="1095.0" y="761.3" font-family="Liberation Sans, sans-serif" font-size="9.8" fill="#e8e8e8" font-weight="bold" text-anchor="middle" textLength="17.0" lengthAdjust="spacingAndGlyphs">May</text><line x1="942.5" y1="745" x2="942.5" y2="748" stroke="#888" stroke-width="1"/><text x="942.5" y="761.3" font-family="Liberation Sans, sans-serif" font-size="9.8" fill="#e8e8e8" font-weight="bold" text-anchor="middle" textLength="16.1" lengthAdjust="spacingAndGlyphs">Sep</text><line x1="1250.0" y1="745" x2="1250.0" y2="748" stroke="#888" stroke-width="1"/><text x="1250.0" y="761.3" font-family="Liberation Sans, sans-serif" font-size="9.8" fill="#e8e8e8" font-weight="bold" text-anchor="middle" textLength="20.3" lengthAdjust="spacingAndGlyphs">2019</text><line x1="1326.0" y1="745" x2="1326.0" y2="748" stroke="#888" stroke-width="1"/><text x="1326.0" y="761.3" font-family="Liberation Sans, sans-serif" font-size="9.8" fill="#e8e8e8" font-weight="bold" text-anchor="middle" textLength="17.0" lengthAdjust="spacingAndGlyphs">May</text><line x1="1173.5" y1="745" x2="1173.5" y2="748" stroke="#888" stroke-width="1"/><text x="1173.5" y="761.3" font-family="Liberation Sans, sans-serif" font-size="9.8" fill="#e8e8e8" font-weight="bold" text-anchor="middle" textLength="16.1" lengthAdjust="spacingAndGlyphs">Sep</text><line x1="1480.0" y1="745" x2="1480.0" y2="748" stroke="#888" stroke-width="1"/><text x="1480.0" y="761.3" font-family="Liberation Sans, sans-serif" font-size="9.8" fill="#e8e8e8" font-weight="bold" text-anchor="middle" textLength="20.3" lengthAdjust="spacingAndGlyphs">2020</text><line x1="1403.5" y1="745" x2="1403.5" y2="748" stroke="#888" stroke-width="1"/><text x="1403.5" y="761.3" font-family="Liberation Sans, sans-serif" font-size="9.8" fill="#e8e8e8" font-weight="bold" text-anchor="middle" textLength="16.1" lengthAdjust="spacingAndGlyphs">Sep</text><text x="10.8" y="52.3" font-family="Liberation Sans, sans-serif" font-size="11" fill="#777" font-weight="bold" textLength="303.1" lengthAdjust="spacingAndGlyphs">Altcoin Market Cap/Market Cap / Bitcoin/Dollar, 3D, CoinMarketCap</text><text x="10.8" y="67.8" font-family="Liberation Sans, sans-serif" font-size="11" fill="#777" textLength="55.6" lengthAdjust="spacingAndGlyphs">Volume (20)</text><text x="10.6" y="614.6" font-family="Liberation Sans, sans-serif" font-size="11" fill="#777" textLength="36.4" lengthAdjust="spacingAndGlyphs">RSI (14)</text><text x="34.5" y="14.3" font-family="Liberation Sans, sans-serif" font-size="10" fill="#111" textLength="125.4" lengthAdjust="spacingAndGlyphs">August 15, 2019 07:03:33 UTC</text><text x="34.5" y="27.8" font-family="Liberation Sans, sans-serif" font-size="10" fill="#111" font-weight="bold" textLength="293.8" lengthAdjust="spacingAndGlyphs">CoinMarketCap:MARKETCAP-ALTCOIN:MARKETCAP/BITCOIN:USD, 3D</text><text x="5.9" y="786.8" font-family="Liberation Sans, sans-serif" font-size="12.8" fill="#1c1c1c" textLength="190.0" lengthAdjust="spacingAndGlyphs">Created on charts.cointrader.pro</text><circle cx="31.1" cy="719.5" r="13.2" fill="#2a2d34" stroke="#3a3430" stroke-width="1"/><path d="M21.6,724 L21.6,721.5 Q22.2,718.2 25.5,717.6 Q27.5,712.6 31,712.6 Q34.2,712.8 35.6,715.6 Q39.6,715.8 41.1,720.5 L41.1,724 Z" fill="#48a8f0"/><path d="M21.8,721.2 L28.8,717 L33.5,720.8 L38.5,715.6" fill="none" stroke="#0f3d6e" stroke-width="1.3"/><text x="54.1" y="724.9" font-family="Liberation Sans, sans-serif" font-size="12.6" fill="#4a93dc" textLength="113.6" lengthAdjust="spacingAndGlyphs">Chart by TradingView</text>
</svg>
</body></html>
